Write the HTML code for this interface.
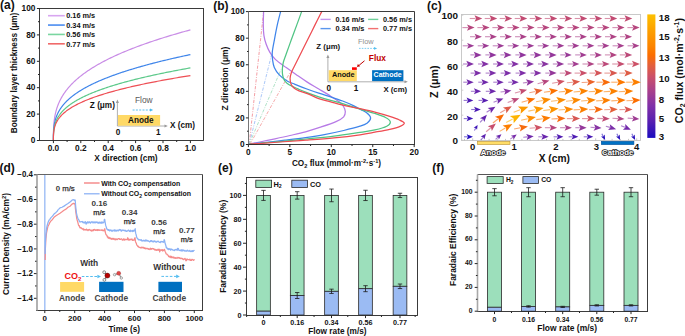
<!DOCTYPE html>
<html><head><meta charset="utf-8"><title>figure</title>
<style>html,body{margin:0;padding:0;background:#fff;width:685px;height:336px;overflow:hidden}
svg{display:block}
text{font-family:"Liberation Sans",sans-serif}
</style></head><body>
<svg width="685" height="336" viewBox="0 0 685 336">
<rect x="0" y="0" width="685" height="336" fill="#fff"/>
<polyline points="53.4,140.5 53.4,140.05 53.4,139.6 53.4,139.15 53.4,138.69 53.4,138.24 53.4,137.79 53.4,137.33 53.41,136.87 53.41,136.42 53.41,135.96 53.41,135.51 53.42,135.05 53.42,134.6 53.43,134.14 53.43,133.68 53.44,133.22 53.45,132.77 53.46,132.31 53.47,131.85 53.48,131.4 53.49,130.94 53.51,130.48 53.52,130.02 53.54,129.57 53.55,129.11 53.57,128.65 53.6,128.19 53.62,127.73 53.64,127.27 53.67,126.82 53.7,126.36 53.72,125.9 53.76,125.44 53.79,124.98 53.82,124.52 53.86,124.06 53.9,123.61 53.94,123.15 53.99,122.69 54.03,122.23 54.08,121.77 54.13,121.31 54.19,120.85 54.24,120.39 54.3,119.93 54.36,119.47 54.43,119.01 54.5,118.55 54.57,118.09 54.64,117.64 54.71,117.18 54.79,116.72 54.88,116.26 54.96,115.8 55.05,115.34 55.14,114.88 55.24,114.42 55.33,113.96 55.44,113.5 55.54,113.04 55.65,112.58 55.76,112.12 55.88,111.66 56,111.2 56.12,110.74 56.25,110.28 56.38,109.82 56.52,109.36 56.66,108.9 56.8,108.44 56.95,107.97 57.1,107.51 57.26,107.05 57.42,106.59 57.58,106.13 57.75,105.67 57.92,105.21 58.1,104.75 58.29,104.29 58.47,103.83 58.67,103.37 58.86,102.91 59.07,102.45 59.27,101.99 59.49,101.53 59.7,101.07 59.93,100.6 60.15,100.14 60.39,99.68 60.62,99.22 60.87,98.76 61.12,98.3 61.37,97.84 61.63,97.38 61.9,96.92 62.17,96.46 62.44,95.99 62.73,95.53 63.02,95.07 63.31,94.61 63.61,94.15 63.92,93.69 64.23,93.23 64.55,92.77 64.87,92.31 65.2,91.84 65.54,91.38 65.88,90.92 66.23,90.46 66.59,90 66.95,89.54 67.32,89.08 67.7,88.61 68.08,88.15 68.47,87.69 68.87,87.23 69.27,86.77 69.68,86.31 70.1,85.84 70.53,85.38 70.96,84.92 71.4,84.46 71.84,84 72.3,83.54 72.76,83.08 73.22,82.61 73.7,82.15 74.18,81.69 74.67,81.23 75.17,80.77 75.68,80.3 76.19,79.84 76.72,79.38 77.25,78.92 77.78,78.46 78.33,78 78.88,77.53 79.44,77.07 80.02,76.61 80.59,76.15 81.18,75.69 81.78,75.22 82.38,74.76 82.99,74.3 83.61,73.84 84.24,73.38 84.88,72.91 85.53,72.45 86.18,71.99 86.85,71.53 87.52,71.07 88.2,70.6 88.89,70.14 89.6,69.68 90.3,69.22 91.02,68.75 91.75,68.29 92.49,67.83 93.24,67.37 93.99,66.91 94.76,66.44 95.53,65.98 96.32,65.52 97.11,65.06 97.92,64.59 98.73,64.13 99.56,63.67 100.39,63.21 101.24,62.74 102.09,62.28 102.95,61.82 103.83,61.36 104.71,60.89 105.61,60.43 106.51,59.97 107.43,59.51 108.35,59.04 109.29,58.58 110.24,58.12 111.2,57.66 112.17,57.19 113.14,56.73 114.14,56.27 115.14,55.81 116.15,55.34 117.17,54.88 118.21,54.42 119.25,53.96 120.31,53.49 121.37,53.03 122.45,52.57 123.54,52.11 124.65,51.64 125.76,51.18 126.88,50.72 128.02,50.26 129.17,49.79 130.33,49.33 131.5,48.87 132.68,48.4 133.88,47.94 135.08,47.48 136.3,47.02 137.54,46.55 138.78,46.09 140.03,45.63 141.3,45.16 142.58,44.7 143.87,44.24 145.18,43.78 146.5,43.31 147.83,42.85 149.17,42.39 150.52,41.92 151.89,41.46 153.27,41 154.67,40.54 156.07,40.07 157.49,39.61 158.92,39.15 160.37,38.68 161.83,38.22 163.3,37.76 164.79,37.29 166.28,36.83 167.8,36.37 169.32,35.9 170.86,35.44 172.41,34.98 173.98,34.52 175.56,34.05 177.15,33.59 178.76,33.13 180.38,32.66 182.01,32.2 183.66,31.74 185.33,31.27 187,30.81 188.69,30.35 190.4,29.88" fill="none" stroke="#c98de6" stroke-width="1.2" stroke-linejoin="round" />
<polyline points="53.4,140.5 53.4,140.15 53.4,139.8 53.4,139.45 53.4,139.1 53.4,138.74 53.4,138.39 53.4,138.04 53.41,137.68 53.41,137.33 53.41,136.98 53.41,136.62 53.42,136.27 53.42,135.91 53.43,135.56 53.43,135.2 53.44,134.85 53.45,134.49 53.46,134.14 53.47,133.78 53.48,133.43 53.49,133.07 53.51,132.72 53.52,132.36 53.54,132.01 53.55,131.65 53.57,131.29 53.6,130.94 53.62,130.58 53.64,130.23 53.67,129.87 53.7,129.51 53.72,129.16 53.76,128.8 53.79,128.44 53.82,128.09 53.86,127.73 53.9,127.38 53.94,127.02 53.99,126.66 54.03,126.31 54.08,125.95 54.13,125.59 54.19,125.24 54.24,124.88 54.3,124.52 54.36,124.17 54.43,123.81 54.5,123.45 54.57,123.09 54.64,122.74 54.71,122.38 54.79,122.02 54.88,121.67 54.96,121.31 55.05,120.95 55.14,120.59 55.24,120.24 55.33,119.88 55.44,119.52 55.54,119.17 55.65,118.81 55.76,118.45 55.88,118.09 56,117.74 56.12,117.38 56.25,117.02 56.38,116.66 56.52,116.31 56.66,115.95 56.8,115.59 56.95,115.23 57.1,114.88 57.26,114.52 57.42,114.16 57.58,113.8 57.75,113.44 57.92,113.09 58.1,112.73 58.29,112.37 58.47,112.01 58.67,111.66 58.86,111.3 59.07,110.94 59.27,110.58 59.49,110.22 59.7,109.87 59.93,109.51 60.15,109.15 60.39,108.79 60.62,108.43 60.87,108.08 61.12,107.72 61.37,107.36 61.63,107 61.9,106.64 62.17,106.28 62.44,105.93 62.73,105.57 63.02,105.21 63.31,104.85 63.61,104.49 63.92,104.13 64.23,103.78 64.55,103.42 64.87,103.06 65.2,102.7 65.54,102.34 65.88,101.98 66.23,101.63 66.59,101.27 66.95,100.91 67.32,100.55 67.7,100.19 68.08,99.83 68.47,99.48 68.87,99.12 69.27,98.76 69.68,98.4 70.1,98.04 70.53,97.68 70.96,97.32 71.4,96.97 71.84,96.61 72.3,96.25 72.76,95.89 73.22,95.53 73.7,95.17 74.18,94.81 74.67,94.45 75.17,94.1 75.68,93.74 76.19,93.38 76.72,93.02 77.25,92.66 77.78,92.3 78.33,91.94 78.88,91.58 79.44,91.23 80.02,90.87 80.59,90.51 81.18,90.15 81.78,89.79 82.38,89.43 82.99,89.07 83.61,88.71 84.24,88.35 84.88,88 85.53,87.64 86.18,87.28 86.85,86.92 87.52,86.56 88.2,86.2 88.89,85.84 89.6,85.48 90.3,85.12 91.02,84.76 91.75,84.41 92.49,84.05 93.24,83.69 93.99,83.33 94.76,82.97 95.53,82.61 96.32,82.25 97.11,81.89 97.92,81.53 98.73,81.17 99.56,80.81 100.39,80.45 101.24,80.1 102.09,79.74 102.95,79.38 103.83,79.02 104.71,78.66 105.61,78.3 106.51,77.94 107.43,77.58 108.35,77.22 109.29,76.86 110.24,76.5 111.2,76.14 112.17,75.78 113.14,75.42 114.14,75.07 115.14,74.71 116.15,74.35 117.17,73.99 118.21,73.63 119.25,73.27 120.31,72.91 121.37,72.55 122.45,72.19 123.54,71.83 124.65,71.47 125.76,71.11 126.88,70.75 128.02,70.39 129.17,70.03 130.33,69.67 131.5,69.31 132.68,68.96 133.88,68.6 135.08,68.24 136.3,67.88 137.54,67.52 138.78,67.16 140.03,66.8 141.3,66.44 142.58,66.08 143.87,65.72 145.18,65.36 146.5,65 147.83,64.64 149.17,64.28 150.52,63.92 151.89,63.56 153.27,63.2 154.67,62.84 156.07,62.48 157.49,62.12 158.92,61.76 160.37,61.4 161.83,61.04 163.3,60.68 164.79,60.32 166.28,59.96 167.8,59.61 169.32,59.25 170.86,58.89 172.41,58.53 173.98,58.17 175.56,57.81 177.15,57.45 178.76,57.09 180.38,56.73 182.01,56.37 183.66,56.01 185.33,55.65 187,55.29 188.69,54.93 190.4,54.57" fill="none" stroke="#3f85ea" stroke-width="1.2" stroke-linejoin="round" />
<polyline points="53.4,140.5 53.4,140.21 53.4,139.91 53.4,139.61 53.4,139.31 53.4,139.02 53.4,138.72 53.4,138.42 53.41,138.12 53.41,137.82 53.41,137.52 53.41,137.22 53.42,136.92 53.42,136.62 53.43,136.32 53.43,136.02 53.44,135.73 53.45,135.43 53.46,135.13 53.47,134.82 53.48,134.52 53.49,134.22 53.51,133.92 53.52,133.62 53.54,133.32 53.55,133.02 53.57,132.72 53.6,132.42 53.62,132.12 53.64,131.82 53.67,131.52 53.7,131.22 53.72,130.92 53.76,130.62 53.79,130.32 53.82,130.01 53.86,129.71 53.9,129.41 53.94,129.11 53.99,128.81 54.03,128.51 54.08,128.21 54.13,127.91 54.19,127.6 54.24,127.3 54.3,127 54.36,126.7 54.43,126.4 54.5,126.1 54.57,125.79 54.64,125.49 54.71,125.19 54.79,124.89 54.88,124.59 54.96,124.29 55.05,123.98 55.14,123.68 55.24,123.38 55.33,123.08 55.44,122.78 55.54,122.48 55.65,122.17 55.76,121.87 55.88,121.57 56,121.27 56.12,120.97 56.25,120.66 56.38,120.36 56.52,120.06 56.66,119.76 56.8,119.46 56.95,119.15 57.1,118.85 57.26,118.55 57.42,118.25 57.58,117.94 57.75,117.64 57.92,117.34 58.1,117.04 58.29,116.73 58.47,116.43 58.67,116.13 58.86,115.83 59.07,115.53 59.27,115.22 59.49,114.92 59.7,114.62 59.93,114.32 60.15,114.01 60.39,113.71 60.62,113.41 60.87,113.11 61.12,112.8 61.37,112.5 61.63,112.2 61.9,111.9 62.17,111.59 62.44,111.29 62.73,110.99 63.02,110.68 63.31,110.38 63.61,110.08 63.92,109.78 64.23,109.47 64.55,109.17 64.87,108.87 65.2,108.57 65.54,108.26 65.88,107.96 66.23,107.66 66.59,107.35 66.95,107.05 67.32,106.75 67.7,106.45 68.08,106.14 68.47,105.84 68.87,105.54 69.27,105.23 69.68,104.93 70.1,104.63 70.53,104.33 70.96,104.02 71.4,103.72 71.84,103.42 72.3,103.11 72.76,102.81 73.22,102.51 73.7,102.2 74.18,101.9 74.67,101.6 75.17,101.3 75.68,100.99 76.19,100.69 76.72,100.39 77.25,100.08 77.78,99.78 78.33,99.48 78.88,99.17 79.44,98.87 80.02,98.57 80.59,98.26 81.18,97.96 81.78,97.66 82.38,97.35 82.99,97.05 83.61,96.75 84.24,96.44 84.88,96.14 85.53,95.84 86.18,95.53 86.85,95.23 87.52,94.93 88.2,94.62 88.89,94.32 89.6,94.02 90.3,93.71 91.02,93.41 91.75,93.11 92.49,92.8 93.24,92.5 93.99,92.2 94.76,91.89 95.53,91.59 96.32,91.29 97.11,90.98 97.92,90.68 98.73,90.38 99.56,90.07 100.39,89.77 101.24,89.47 102.09,89.16 102.95,88.86 103.83,88.56 104.71,88.25 105.61,87.95 106.51,87.65 107.43,87.34 108.35,87.04 109.29,86.74 110.24,86.43 111.2,86.13 112.17,85.82 113.14,85.52 114.14,85.22 115.14,84.91 116.15,84.61 117.17,84.31 118.21,84 119.25,83.7 120.31,83.4 121.37,83.09 122.45,82.79 123.54,82.48 124.65,82.18 125.76,81.88 126.88,81.57 128.02,81.27 129.17,80.97 130.33,80.66 131.5,80.36 132.68,80.06 133.88,79.75 135.08,79.45 136.3,79.14 137.54,78.84 138.78,78.54 140.03,78.23 141.3,77.93 142.58,77.63 143.87,77.32 145.18,77.02 146.5,76.71 147.83,76.41 149.17,76.11 150.52,75.8 151.89,75.5 153.27,75.19 154.67,74.89 156.07,74.59 157.49,74.28 158.92,73.98 160.37,73.68 161.83,73.37 163.3,73.07 164.79,72.76 166.28,72.46 167.8,72.16 169.32,71.85 170.86,71.55 172.41,71.24 173.98,70.94 175.56,70.64 177.15,70.33 178.76,70.03 180.38,69.72 182.01,69.42 183.66,69.12 185.33,68.81 187,68.51 188.69,68.2 190.4,67.9" fill="none" stroke="#5cc98a" stroke-width="1.2" stroke-linejoin="round" />
<polyline points="53.4,140.5 53.4,140.24 53.4,139.97 53.4,139.71 53.4,139.44 53.4,139.17 53.4,138.91 53.4,138.64 53.41,138.37 53.41,138.1 53.41,137.84 53.41,137.57 53.42,137.3 53.42,137.03 53.43,136.77 53.43,136.5 53.44,136.23 53.45,135.96 53.46,135.69 53.47,135.42 53.48,135.15 53.49,134.89 53.51,134.62 53.52,134.35 53.54,134.08 53.55,133.81 53.57,133.54 53.6,133.27 53.62,133 53.64,132.74 53.67,132.47 53.7,132.2 53.72,131.93 53.76,131.66 53.79,131.39 53.82,131.12 53.86,130.85 53.9,130.58 53.94,130.31 53.99,130.04 54.03,129.77 54.08,129.5 54.13,129.23 54.19,128.96 54.24,128.69 54.3,128.42 54.36,128.15 54.43,127.89 54.5,127.62 54.57,127.35 54.64,127.08 54.71,126.81 54.79,126.54 54.88,126.27 54.96,126 55.05,125.73 55.14,125.46 55.24,125.19 55.33,124.92 55.44,124.65 55.54,124.38 55.65,124.11 55.76,123.84 55.88,123.57 56,123.3 56.12,123.03 56.25,122.76 56.38,122.49 56.52,122.21 56.66,121.94 56.8,121.67 56.95,121.4 57.1,121.13 57.26,120.86 57.42,120.59 57.58,120.32 57.75,120.05 57.92,119.78 58.1,119.51 58.29,119.24 58.47,118.97 58.67,118.7 58.86,118.43 59.07,118.16 59.27,117.89 59.49,117.62 59.7,117.35 59.93,117.08 60.15,116.81 60.39,116.54 60.62,116.27 60.87,115.99 61.12,115.72 61.37,115.45 61.63,115.18 61.9,114.91 62.17,114.64 62.44,114.37 62.73,114.1 63.02,113.83 63.31,113.56 63.61,113.29 63.92,113.02 64.23,112.75 64.55,112.48 64.87,112.2 65.2,111.93 65.54,111.66 65.88,111.39 66.23,111.12 66.59,110.85 66.95,110.58 67.32,110.31 67.7,110.04 68.08,109.77 68.47,109.5 68.87,109.22 69.27,108.95 69.68,108.68 70.1,108.41 70.53,108.14 70.96,107.87 71.4,107.6 71.84,107.33 72.3,107.06 72.76,106.79 73.22,106.51 73.7,106.24 74.18,105.97 74.67,105.7 75.17,105.43 75.68,105.16 76.19,104.89 76.72,104.62 77.25,104.35 77.78,104.07 78.33,103.8 78.88,103.53 79.44,103.26 80.02,102.99 80.59,102.72 81.18,102.45 81.78,102.18 82.38,101.9 82.99,101.63 83.61,101.36 84.24,101.09 84.88,100.82 85.53,100.55 86.18,100.28 86.85,100.01 87.52,99.73 88.2,99.46 88.89,99.19 89.6,98.92 90.3,98.65 91.02,98.38 91.75,98.11 92.49,97.83 93.24,97.56 93.99,97.29 94.76,97.02 95.53,96.75 96.32,96.48 97.11,96.21 97.92,95.93 98.73,95.66 99.56,95.39 100.39,95.12 101.24,94.85 102.09,94.58 102.95,94.31 103.83,94.03 104.71,93.76 105.61,93.49 106.51,93.22 107.43,92.95 108.35,92.68 109.29,92.41 110.24,92.13 111.2,91.86 112.17,91.59 113.14,91.32 114.14,91.05 115.14,90.78 116.15,90.5 117.17,90.23 118.21,89.96 119.25,89.69 120.31,89.42 121.37,89.15 122.45,88.87 123.54,88.6 124.65,88.33 125.76,88.06 126.88,87.79 128.02,87.52 129.17,87.24 130.33,86.97 131.5,86.7 132.68,86.43 133.88,86.16 135.08,85.89 136.3,85.61 137.54,85.34 138.78,85.07 140.03,84.8 141.3,84.53 142.58,84.26 143.87,83.98 145.18,83.71 146.5,83.44 147.83,83.17 149.17,82.9 150.52,82.62 151.89,82.35 153.27,82.08 154.67,81.81 156.07,81.54 157.49,81.27 158.92,80.99 160.37,80.72 161.83,80.45 163.3,80.18 164.79,79.91 166.28,79.63 167.8,79.36 169.32,79.09 170.86,78.82 172.41,78.55 173.98,78.28 175.56,78 177.15,77.73 178.76,77.46 180.38,77.19 182.01,76.92 183.66,76.64 185.33,76.37 187,76.1 188.69,75.83 190.4,75.56" fill="none" stroke="#ee4f55" stroke-width="1.2" stroke-linejoin="round" />
<rect x="39.5" y="8.5" width="164" height="132" fill="none" stroke="#262626" stroke-width="0.9" />
<line x1="36.9" y1="140.5" x2="39.5" y2="140.5" stroke="#262626" stroke-width="1" />
<line x1="38" y1="127.3" x2="39.5" y2="127.3" stroke="#262626" stroke-width="1" />
<line x1="36.9" y1="114.1" x2="39.5" y2="114.1" stroke="#262626" stroke-width="1" />
<line x1="38" y1="100.9" x2="39.5" y2="100.9" stroke="#262626" stroke-width="1" />
<line x1="36.9" y1="87.7" x2="39.5" y2="87.7" stroke="#262626" stroke-width="1" />
<line x1="38" y1="74.5" x2="39.5" y2="74.5" stroke="#262626" stroke-width="1" />
<line x1="36.9" y1="61.3" x2="39.5" y2="61.3" stroke="#262626" stroke-width="1" />
<line x1="38" y1="48.1" x2="39.5" y2="48.1" stroke="#262626" stroke-width="1" />
<line x1="36.9" y1="34.9" x2="39.5" y2="34.9" stroke="#262626" stroke-width="1" />
<line x1="38" y1="21.7" x2="39.5" y2="21.7" stroke="#262626" stroke-width="1" />
<line x1="36.9" y1="8.5" x2="39.5" y2="8.5" stroke="#262626" stroke-width="1" />
<text x="35.4" y="143.1" font-size="8.3" font-weight="bold" text-anchor="end" fill="#111" >0</text>
<text x="35.4" y="116.7" font-size="8.3" font-weight="bold" text-anchor="end" fill="#111" >20</text>
<text x="35.4" y="90.3" font-size="8.3" font-weight="bold" text-anchor="end" fill="#111" >40</text>
<text x="35.4" y="63.9" font-size="8.3" font-weight="bold" text-anchor="end" fill="#111" >60</text>
<text x="35.4" y="37.5" font-size="8.3" font-weight="bold" text-anchor="end" fill="#111" >80</text>
<text x="35.4" y="11.1" font-size="8.3" font-weight="bold" text-anchor="end" fill="#111" >100</text>
<line x1="53.4" y1="140.5" x2="53.4" y2="143.1" stroke="#262626" stroke-width="1" />
<line x1="67.1" y1="140.5" x2="67.1" y2="142" stroke="#262626" stroke-width="1" />
<line x1="80.8" y1="140.5" x2="80.8" y2="143.1" stroke="#262626" stroke-width="1" />
<line x1="94.5" y1="140.5" x2="94.5" y2="142" stroke="#262626" stroke-width="1" />
<line x1="108.2" y1="140.5" x2="108.2" y2="143.1" stroke="#262626" stroke-width="1" />
<line x1="121.9" y1="140.5" x2="121.9" y2="142" stroke="#262626" stroke-width="1" />
<line x1="135.6" y1="140.5" x2="135.6" y2="143.1" stroke="#262626" stroke-width="1" />
<line x1="149.3" y1="140.5" x2="149.3" y2="142" stroke="#262626" stroke-width="1" />
<line x1="163" y1="140.5" x2="163" y2="143.1" stroke="#262626" stroke-width="1" />
<line x1="176.7" y1="140.5" x2="176.7" y2="142" stroke="#262626" stroke-width="1" />
<line x1="190.4" y1="140.5" x2="190.4" y2="143.1" stroke="#262626" stroke-width="1" />
<text x="53.4" y="150.6" font-size="8.3" font-weight="bold" text-anchor="middle" fill="#111" >0.0</text>
<text x="80.8" y="150.6" font-size="8.3" font-weight="bold" text-anchor="middle" fill="#111" >0.2</text>
<text x="108.2" y="150.6" font-size="8.3" font-weight="bold" text-anchor="middle" fill="#111" >0.4</text>
<text x="135.6" y="150.6" font-size="8.3" font-weight="bold" text-anchor="middle" fill="#111" >0.6</text>
<text x="163" y="150.6" font-size="8.3" font-weight="bold" text-anchor="middle" fill="#111" >0.8</text>
<text x="190.4" y="150.6" font-size="8.3" font-weight="bold" text-anchor="middle" fill="#111" >1.0</text>
<text x="126" y="161.3" font-size="8.4" font-weight="bold" text-anchor="middle" fill="#111" >X direction (cm)</text>
<text x="0" y="0" font-size="8.25" font-weight="bold" text-anchor="middle" fill="#111" transform="translate(16.5,73.0) rotate(-90)">Boundary layer thickness (μm)</text>
<text x="0" y="9.2" font-size="12" font-weight="bold" text-anchor="start" fill="#111" >(a)</text>
<line x1="48" y1="15.7" x2="64.8" y2="15.7" stroke="#d8a6f0" stroke-width="1.6" />
<text x="66.2" y="18.4" font-size="7.35" font-weight="bold" text-anchor="start" fill="#111" >0.16 m/s</text>
<line x1="48" y1="25.07" x2="64.8" y2="25.07" stroke="#4a8cf0" stroke-width="1.6" />
<text x="66.2" y="27.77" font-size="7.35" font-weight="bold" text-anchor="start" fill="#111" >0.34 m/s</text>
<line x1="48" y1="34.44" x2="64.8" y2="34.44" stroke="#7ad6a0" stroke-width="1.6" />
<text x="66.2" y="37.14" font-size="7.35" font-weight="bold" text-anchor="start" fill="#111" >0.56 m/s</text>
<line x1="48" y1="43.81" x2="64.8" y2="43.81" stroke="#f06a6a" stroke-width="1.6" />
<text x="66.2" y="46.51" font-size="7.35" font-weight="bold" text-anchor="start" fill="#111" >0.77 m/s</text>
<line x1="117.4" y1="126" x2="117.4" y2="102" stroke="#9a9a9a" stroke-width="0.8" />
<path d="M115.9,103 L117.4,99.6 L118.9,103 Z" fill="#9a9a9a"/>
<line x1="117.4" y1="126" x2="165.5" y2="126" stroke="#9a9a9a" stroke-width="0.8" />
<path d="M164.5,124.5 L167.8,126 L164.5,127.5 Z" fill="#9a9a9a"/>
<rect x="118" y="115" width="42.1" height="10.7" fill="#ffd966" stroke="none" stroke-width="1" />
<text x="140.8" y="123.4" font-size="8.2" font-weight="bold" text-anchor="middle" fill="#111" >Anode</text>
<text x="143.8" y="103.3" font-size="8.4" font-weight="normal" text-anchor="middle" fill="#5a5a5a" >Flow</text>
<line x1="132.6" y1="110" x2="150.5" y2="110" stroke="#49b8ec" stroke-width="0.9" stroke-dasharray="2,1.3"/>
<path d="M150,108.6 L153.2,110 L150,111.4 Z" fill="#49b8ec"/>
<text x="114.9" y="107.8" font-size="8.2" font-weight="bold" text-anchor="end" fill="#111" >Z (μm)</text>
<text x="170" y="127.9" font-size="8.2" font-weight="bold" text-anchor="start" fill="#111" >X (cm)</text>
<text x="118" y="135.3" font-size="8.2" font-weight="bold" text-anchor="middle" fill="#111" >0</text>
<text x="158.4" y="135.3" font-size="8.2" font-weight="bold" text-anchor="middle" fill="#111" >1</text>
<line x1="249.2" y1="144.2" x2="263.6" y2="11.6" stroke="#f39aa0" stroke-width="0.95" stroke-dasharray="3.2,1.4,0.9,1.4"/>
<line x1="249.2" y1="144.2" x2="271.5" y2="55" stroke="#9fc0f6" stroke-width="0.9" stroke-dasharray="3.2,1.4,0.9,1.4"/>
<line x1="249.2" y1="144.2" x2="281" y2="69.5" stroke="#a5dfbf" stroke-width="0.9" stroke-dasharray="3.2,1.4,0.9,1.4"/>
<line x1="250" y1="144.2" x2="290" y2="72.5" stroke="#f4a2a2" stroke-width="0.9" stroke-dasharray="3.2,1.4,0.9,1.4"/>
<path d="M263.6,11.6 C263.55,13.82 263.25,20.95 263.3,24.9 C263.35,28.85 263.42,32.07 263.9,35.3 C264.38,38.53 265.2,41.45 266.2,44.3 C267.2,47.15 268.33,49.85 269.9,52.4 C271.47,54.95 272.88,57.07 275.6,59.6 C278.32,62.13 282.8,65.12 286.2,67.6 C289.6,70.08 292.55,72.12 296,74.5 C299.45,76.88 303.1,79.48 306.9,81.9 C310.7,84.32 314.83,86.62 318.8,89 C322.77,91.38 327.25,94.02 330.7,96.2 C334.15,98.38 337.37,100.38 339.5,102.1 C341.63,103.82 342.53,104.93 343.5,106.5 C344.47,108.07 345.27,109.78 345.3,111.5 C345.33,113.22 345.25,115.12 343.7,116.8 C342.15,118.48 339.87,119.87 336,121.6 C332.13,123.33 325.58,125.5 320.5,127.2 C315.42,128.9 310.58,130.42 305.5,131.8 C300.42,133.18 295.08,134.33 290,135.5 C284.92,136.67 279.67,137.8 275,138.8 C270.33,139.8 266.33,140.6 262,141.5 C257.67,142.4 251.17,143.75 249,144.2" fill="none" stroke="#b77ae6" stroke-width="1.25" stroke-linejoin="round" stroke-linecap="round" />
<path d="M280.6,11.6 C280.05,13.82 278.33,20.2 277.3,24.9 C276.27,29.6 275.23,35.28 274.4,39.8 C273.57,44.32 272.6,48.63 272.3,52 C272,55.37 272.27,57.43 272.6,60 C272.93,62.57 273.18,64.92 274.3,67.4 C275.42,69.88 277.23,72.68 279.3,74.9 C281.37,77.12 284.08,79.13 286.7,80.7 C289.32,82.27 291.63,82.92 295,84.3 C298.37,85.68 302.93,87.52 306.9,89 C310.87,90.48 314.83,91.88 318.8,93.2 C322.77,94.52 326.73,95.6 330.7,96.9 C334.67,98.2 338.82,99.55 342.6,101 C346.38,102.45 350.33,104.15 353.4,105.6 C356.47,107.05 358.73,108.47 361,109.7 C363.27,110.93 365.4,111.62 367,113 C368.6,114.38 370.6,116.3 370.6,118 C370.6,119.7 368.77,121.83 367,123.2 C365.23,124.57 363.88,124.98 360,126.2 C356.12,127.42 349.63,129.1 343.7,130.5 C337.77,131.9 330.77,133.42 324.4,134.6 C318.03,135.78 312.07,136.67 305.5,137.6 C298.93,138.53 291.75,139.38 285,140.2 C278.25,141.02 271,141.83 265,142.5 C259,143.17 251.67,143.92 249,144.2" fill="none" stroke="#3f85ea" stroke-width="1.25" stroke-linejoin="round" stroke-linecap="round" />
<path d="M301.6,11.6 C300.8,13.82 298.52,20.2 296.8,24.9 C295.08,29.6 293.07,34.95 291.3,39.8 C289.53,44.65 287.52,50.3 286.2,54 C284.88,57.7 284.03,59.58 283.4,62 C282.77,64.42 282.53,66.35 282.4,68.5 C282.27,70.65 282.3,72.98 282.6,74.9 C282.9,76.82 283.42,78.57 284.2,80 C284.98,81.43 286,82.45 287.3,83.5 C288.6,84.55 290.23,85.4 292,86.3 C293.77,87.2 295.42,87.85 297.9,88.9 C300.38,89.95 303.42,91.28 306.9,92.6 C310.38,93.92 314.83,95.5 318.8,96.8 C322.77,98.1 326.73,99.27 330.7,100.4 C334.67,101.53 337.72,102.15 342.6,103.6 C347.48,105.05 354.62,107.45 360,109.1 C365.38,110.75 370.65,112.1 374.9,113.5 C379.15,114.9 382.93,116.12 385.5,117.5 C388.07,118.88 390.08,120.35 390.3,121.8 C390.52,123.25 389.37,124.85 386.8,126.2 C384.23,127.55 379.37,128.88 374.9,129.9 C370.43,130.92 366.82,131.27 360,132.3 C353.18,133.33 343,134.98 334,136.1 C325,137.22 315,138.08 306,139 C297,139.92 287.33,140.92 280,141.6 C272.67,142.28 267.17,142.67 262,143.1 C256.83,143.53 251.17,144.02 249,144.2" fill="none" stroke="#50c484" stroke-width="1.25" stroke-linejoin="round" stroke-linecap="round" />
<path d="M321.7,11.6 C320.58,13.82 317.35,20.2 315,24.9 C312.65,29.6 309.77,35.45 307.6,39.8 C305.43,44.15 303.68,47.63 302,51 C300.32,54.37 298.83,57.33 297.5,60 C296.17,62.67 295.02,64.92 294,67 C292.98,69.08 292.05,70.58 291.4,72.5 C290.75,74.42 290.13,76.5 290.1,78.5 C290.07,80.5 290.5,82.87 291.2,84.5 C291.9,86.13 293,87.25 294.3,88.3 C295.6,89.35 296.72,89.88 299,90.8 C301.28,91.72 304.7,92.5 308,93.8 C311.3,95.1 315.02,97.25 318.8,98.6 C322.58,99.95 326.33,100.72 330.7,101.9 C335.07,103.08 340.12,104.57 345,105.7 C349.88,106.83 355.02,107.63 360,108.7 C364.98,109.77 369.95,110.82 374.9,112.1 C379.85,113.38 385.6,115.08 389.7,116.4 C393.8,117.72 397.07,118.87 399.5,120 C401.93,121.13 404.2,122.15 404.3,123.2 C404.4,124.25 402.53,125.28 400.1,126.3 C397.67,127.32 393.9,128.32 389.7,129.3 C385.5,130.28 379.85,131.28 374.9,132.2 C369.95,133.12 366.82,133.85 360,134.8 C353.18,135.75 343,137 334,137.9 C325,138.8 315,139.52 306,140.2 C297,140.88 287.33,141.48 280,142 C272.67,142.52 267,142.93 262,143.3 C257,143.67 252,144.05 250,144.2" fill="none" stroke="#ee4c52" stroke-width="1.25" stroke-linejoin="round" stroke-linecap="round" />
<line x1="248.5" y1="11.5" x2="414.5" y2="11.5" stroke="#262626" stroke-width="0.9" />
<line x1="414.5" y1="11.5" x2="414.5" y2="144.5" stroke="#262626" stroke-width="0.9" />
<line x1="248" y1="144.5" x2="414.95" y2="144.5" stroke="#262626" stroke-width="0.9" />
<line x1="248.5" y1="11.5" x2="248.5" y2="144.5" stroke="#777" stroke-width="1" />
<line x1="245.9" y1="144.5" x2="248.5" y2="144.5" stroke="#262626" stroke-width="1" />
<line x1="247" y1="131.21" x2="248.5" y2="131.21" stroke="#262626" stroke-width="1" />
<line x1="245.9" y1="117.92" x2="248.5" y2="117.92" stroke="#262626" stroke-width="1" />
<line x1="247" y1="104.63" x2="248.5" y2="104.63" stroke="#262626" stroke-width="1" />
<line x1="245.9" y1="91.34" x2="248.5" y2="91.34" stroke="#262626" stroke-width="1" />
<line x1="247" y1="78.05" x2="248.5" y2="78.05" stroke="#262626" stroke-width="1" />
<line x1="245.9" y1="64.76" x2="248.5" y2="64.76" stroke="#262626" stroke-width="1" />
<line x1="247" y1="51.47" x2="248.5" y2="51.47" stroke="#262626" stroke-width="1" />
<line x1="245.9" y1="38.18" x2="248.5" y2="38.18" stroke="#262626" stroke-width="1" />
<line x1="247" y1="24.89" x2="248.5" y2="24.89" stroke="#262626" stroke-width="1" />
<line x1="245.9" y1="11.6" x2="248.5" y2="11.6" stroke="#262626" stroke-width="1" />
<text x="244.6" y="147.2" font-size="8.3" font-weight="bold" text-anchor="end" fill="#111" >0</text>
<text x="244.6" y="120.62" font-size="8.3" font-weight="bold" text-anchor="end" fill="#111" >20</text>
<text x="244.6" y="94.04" font-size="8.3" font-weight="bold" text-anchor="end" fill="#111" >40</text>
<text x="244.6" y="67.46" font-size="8.3" font-weight="bold" text-anchor="end" fill="#111" >60</text>
<text x="244.6" y="40.88" font-size="8.3" font-weight="bold" text-anchor="end" fill="#111" >80</text>
<text x="244.6" y="14.3" font-size="8.3" font-weight="bold" text-anchor="end" fill="#111" >100</text>
<line x1="248.4" y1="144.5" x2="248.4" y2="147.1" stroke="#262626" stroke-width="1" />
<line x1="269.12" y1="144.5" x2="269.12" y2="146" stroke="#262626" stroke-width="1" />
<line x1="289.85" y1="144.5" x2="289.85" y2="147.1" stroke="#262626" stroke-width="1" />
<line x1="310.57" y1="144.5" x2="310.57" y2="146" stroke="#262626" stroke-width="1" />
<line x1="331.3" y1="144.5" x2="331.3" y2="147.1" stroke="#262626" stroke-width="1" />
<line x1="352.02" y1="144.5" x2="352.02" y2="146" stroke="#262626" stroke-width="1" />
<line x1="372.75" y1="144.5" x2="372.75" y2="147.1" stroke="#262626" stroke-width="1" />
<line x1="393.48" y1="144.5" x2="393.48" y2="146" stroke="#262626" stroke-width="1" />
<line x1="414.2" y1="144.5" x2="414.2" y2="147.1" stroke="#262626" stroke-width="1" />
<text x="248.4" y="155" font-size="8.3" font-weight="bold" text-anchor="middle" fill="#111" >0</text>
<text x="289.85" y="155" font-size="8.3" font-weight="bold" text-anchor="middle" fill="#111" >5</text>
<text x="331.3" y="155" font-size="8.3" font-weight="bold" text-anchor="middle" fill="#111" >10</text>
<text x="372.75" y="155" font-size="8.3" font-weight="bold" text-anchor="middle" fill="#111" >15</text>
<text x="414.2" y="155" font-size="8.3" font-weight="bold" text-anchor="middle" fill="#111" >20</text>
<text x="336.5" y="166.2" font-size="8.2" font-weight="bold" text-anchor="middle" fill="#111" >CO<tspan font-size="5.6" dy="1.8">2</tspan><tspan dy="-1.8"> flux (mmol·m</tspan><tspan font-size="5.6" dy="-3">-2</tspan><tspan dy="3">·s</tspan><tspan font-size="5.6" dy="-3">-1</tspan><tspan dy="3">)</tspan></text>
<text x="0" y="0" font-size="8.45" font-weight="bold" text-anchor="middle" fill="#111" transform="translate(227.8,78.5) rotate(-90)">Z direction (μm)</text>
<text x="213.3" y="9.5" font-size="12" font-weight="bold" text-anchor="start" fill="#111" >(b)</text>
<line x1="320.5" y1="19.4" x2="330.7" y2="19.4" stroke="#c597ee" stroke-width="1.4" />
<text x="335.4" y="22.1" font-size="7.35" font-weight="bold" text-anchor="start" fill="#111" >0.16 m/s</text>
<line x1="320.5" y1="28.6" x2="330.7" y2="28.6" stroke="#5a96ee" stroke-width="1.4" />
<text x="335.4" y="31.3" font-size="7.35" font-weight="bold" text-anchor="start" fill="#111" >0.34 m/s</text>
<line x1="368.1" y1="19.4" x2="378.3" y2="19.4" stroke="#6fd09a" stroke-width="1.4" />
<text x="383" y="22.1" font-size="7.35" font-weight="bold" text-anchor="start" fill="#111" >0.56 m/s</text>
<line x1="368.1" y1="28.6" x2="378.3" y2="28.6" stroke="#f27070" stroke-width="1.4" />
<text x="383" y="31.3" font-size="7.35" font-weight="bold" text-anchor="start" fill="#111" >0.77 m/s</text>
<line x1="327.9" y1="81.8" x2="327.9" y2="57" stroke="#9a9a9a" stroke-width="0.8" />
<path d="M326.4,58 L327.9,54.6 L329.4,58 Z" fill="#9a9a9a"/>
<line x1="327.9" y1="81.8" x2="405.5" y2="81.8" stroke="#9a9a9a" stroke-width="0.8" />
<path d="M404.5,80.3 L407.8,81.8 L404.5,83.3 Z" fill="#9a9a9a"/>
<rect x="328.7" y="70.2" width="28.1" height="10.9" fill="#ffd966" stroke="none" stroke-width="1" />
<rect x="352" y="67.3" width="4.8" height="2.6" fill="#ff0000" stroke="none" stroke-width="1" />
<line x1="364.5" y1="60.8" x2="359.2" y2="65.2" stroke="#c00000" stroke-width="1" />
<path d="M357.0,67.0 L357.8,64.1 L360.2,66.3 Z" fill="#c00000"/>
<text x="343.3" y="77.4" font-size="7.3" font-weight="bold" text-anchor="middle" fill="#111" >Anode</text>
<rect x="372.1" y="70.2" width="31.3" height="10.9" fill="#0070c0" stroke="none" stroke-width="1" />
<text x="387.6" y="77.3" font-size="7" font-weight="bold" text-anchor="middle" fill="#fff" >Cathode</text>
<text x="377.4" y="61.1" font-size="8.3" font-weight="bold" text-anchor="middle" fill="#c00000" >Flux</text>
<text x="365.8" y="43.6" font-size="7.4" font-weight="normal" text-anchor="middle" fill="#8f8f8f" >Flow</text>
<line x1="359" y1="48.4" x2="374.5" y2="48.4" stroke="#6cc8f2" stroke-width="0.9" stroke-dasharray="1.6,1.2"/>
<path d="M374,47 L377.2,48.4 L374,49.8 Z" fill="#55c0f0"/>
<text x="340.2" y="49.2" font-size="7.8" font-weight="bold" text-anchor="end" fill="#111" >Z (μm)</text>
<text x="383.4" y="92.3" font-size="7.8" font-weight="bold" text-anchor="start" fill="#111" >X (cm)</text>
<text x="328.7" y="90.9" font-size="8.2" font-weight="bold" text-anchor="middle" fill="#111" >0</text>
<text x="356" y="90.9" font-size="8.2" font-weight="bold" text-anchor="middle" fill="#111" >1</text>
<defs><linearGradient id="cbg" x1="0" y1="0" x2="0" y2="1"><stop offset="0" stop-color="#fdc000"/><stop offset="0.13" stop-color="#fda000"/><stop offset="0.26" stop-color="#fc8400"/><stop offset="0.33" stop-color="#fc6e00"/><stop offset="0.41" stop-color="#e4603a"/><stop offset="0.5" stop-color="#cc5068"/><stop offset="0.62" stop-color="#a8408c"/><stop offset="0.74" stop-color="#8030a8"/><stop offset="0.86" stop-color="#5a20b0"/><stop offset="0.94" stop-color="#3814b8"/><stop offset="1" stop-color="#1a0cc0"/></linearGradient></defs>
<rect x="461.5" y="14.5" width="179" height="126" fill="none" stroke="#c4c4c4" stroke-width="0.9" />
<line x1="461.5" y1="140.2" x2="463.3" y2="140.2" stroke="#c4c4c4" stroke-width="0.8" />
<line x1="461.5" y1="115.2" x2="463.3" y2="115.2" stroke="#c4c4c4" stroke-width="0.8" />
<line x1="461.5" y1="90.2" x2="463.3" y2="90.2" stroke="#c4c4c4" stroke-width="0.8" />
<line x1="461.5" y1="65.2" x2="463.3" y2="65.2" stroke="#c4c4c4" stroke-width="0.8" />
<line x1="461.5" y1="40.2" x2="463.3" y2="40.2" stroke="#c4c4c4" stroke-width="0.8" />
<line x1="461.5" y1="15.2" x2="463.3" y2="15.2" stroke="#c4c4c4" stroke-width="0.8" />
<line x1="464.5" y1="140.5" x2="464.5" y2="138.9" stroke="#b8b8b8" stroke-width="0.8" />
<line x1="472.7" y1="140.5" x2="472.7" y2="138.3" stroke="#b8b8b8" stroke-width="0.8" />
<line x1="480.9" y1="140.5" x2="480.9" y2="138.9" stroke="#b8b8b8" stroke-width="0.8" />
<line x1="489.1" y1="140.5" x2="489.1" y2="138.9" stroke="#b8b8b8" stroke-width="0.8" />
<line x1="497.3" y1="140.5" x2="497.3" y2="138.9" stroke="#b8b8b8" stroke-width="0.8" />
<line x1="505.5" y1="140.5" x2="505.5" y2="138.9" stroke="#b8b8b8" stroke-width="0.8" />
<line x1="513.7" y1="140.5" x2="513.7" y2="138.3" stroke="#b8b8b8" stroke-width="0.8" />
<line x1="521.9" y1="140.5" x2="521.9" y2="138.9" stroke="#b8b8b8" stroke-width="0.8" />
<line x1="530.1" y1="140.5" x2="530.1" y2="138.9" stroke="#b8b8b8" stroke-width="0.8" />
<line x1="538.3" y1="140.5" x2="538.3" y2="138.9" stroke="#b8b8b8" stroke-width="0.8" />
<line x1="546.5" y1="140.5" x2="546.5" y2="138.9" stroke="#b8b8b8" stroke-width="0.8" />
<line x1="554.7" y1="140.5" x2="554.7" y2="138.3" stroke="#b8b8b8" stroke-width="0.8" />
<line x1="562.9" y1="140.5" x2="562.9" y2="138.9" stroke="#b8b8b8" stroke-width="0.8" />
<line x1="571.1" y1="140.5" x2="571.1" y2="138.9" stroke="#b8b8b8" stroke-width="0.8" />
<line x1="579.3" y1="140.5" x2="579.3" y2="138.9" stroke="#b8b8b8" stroke-width="0.8" />
<line x1="587.5" y1="140.5" x2="587.5" y2="138.9" stroke="#b8b8b8" stroke-width="0.8" />
<line x1="595.7" y1="140.5" x2="595.7" y2="138.3" stroke="#b8b8b8" stroke-width="0.8" />
<line x1="603.9" y1="140.5" x2="603.9" y2="138.9" stroke="#b8b8b8" stroke-width="0.8" />
<line x1="612.1" y1="140.5" x2="612.1" y2="138.9" stroke="#b8b8b8" stroke-width="0.8" />
<line x1="620.3" y1="140.5" x2="620.3" y2="138.9" stroke="#b8b8b8" stroke-width="0.8" />
<line x1="628.5" y1="140.5" x2="628.5" y2="138.9" stroke="#b8b8b8" stroke-width="0.8" />
<line x1="636.7" y1="140.5" x2="636.7" y2="138.3" stroke="#b8b8b8" stroke-width="0.8" />
<line x1="469.72" y1="18.5" x2="475.49" y2="18.5" stroke="#c24b72" stroke-width="1.1" stroke-opacity="0.6"/>
<path d="M482.28,18.5 L474.49,21.65 L476.05,18.5 L474.49,15.35 Z" fill="#c24b72"/>
<line x1="484.72" y1="18.5" x2="490.49" y2="18.5" stroke="#c24b72" stroke-width="1.1" stroke-opacity="0.6"/>
<path d="M497.28,18.5 L489.49,21.65 L491.05,18.5 L489.49,15.35 Z" fill="#c24b72"/>
<line x1="499.72" y1="18.5" x2="505.49" y2="18.5" stroke="#c24b72" stroke-width="1.1" stroke-opacity="0.6"/>
<path d="M512.28,18.5 L504.49,21.65 L506.05,18.5 L504.49,15.35 Z" fill="#c24b72"/>
<line x1="514.72" y1="18.5" x2="520.49" y2="18.5" stroke="#c24b72" stroke-width="1.1" stroke-opacity="0.6"/>
<path d="M527.28,18.5 L519.49,21.65 L521.05,18.5 L519.49,15.35 Z" fill="#c24b72"/>
<line x1="529.72" y1="18.5" x2="535.49" y2="18.5" stroke="#c24b72" stroke-width="1.1" stroke-opacity="0.6"/>
<path d="M542.28,18.5 L534.49,21.65 L536.05,18.5 L534.49,15.35 Z" fill="#c24b72"/>
<line x1="544.72" y1="18.5" x2="550.49" y2="18.5" stroke="#c24b72" stroke-width="1.1" stroke-opacity="0.6"/>
<path d="M557.28,18.5 L549.49,21.65 L551.05,18.5 L549.49,15.35 Z" fill="#c24b72"/>
<line x1="559.72" y1="18.5" x2="565.49" y2="18.5" stroke="#c24b72" stroke-width="1.1" stroke-opacity="0.6"/>
<path d="M572.28,18.5 L564.49,21.65 L566.05,18.5 L564.49,15.35 Z" fill="#c24b72"/>
<line x1="574.72" y1="18.5" x2="580.49" y2="18.5" stroke="#c24b72" stroke-width="1.1" stroke-opacity="0.6"/>
<path d="M587.28,18.5 L579.49,21.65 L581.05,18.5 L579.49,15.35 Z" fill="#c24b72"/>
<line x1="589.72" y1="18.5" x2="595.49" y2="18.5" stroke="#c24b72" stroke-width="1.1" stroke-opacity="0.6"/>
<path d="M602.28,18.5 L594.49,21.65 L596.05,18.5 L594.49,15.35 Z" fill="#c24b72"/>
<line x1="604.72" y1="18.5" x2="610.49" y2="18.5" stroke="#c24b72" stroke-width="1.1" stroke-opacity="0.6"/>
<path d="M617.28,18.5 L609.49,21.65 L611.05,18.5 L609.49,15.35 Z" fill="#c24b72"/>
<line x1="619.72" y1="18.5" x2="625.49" y2="18.5" stroke="#c24b72" stroke-width="1.1" stroke-opacity="0.6"/>
<path d="M632.28,18.5 L624.49,21.65 L626.05,18.5 L624.49,15.35 Z" fill="#c24b72"/>
<line x1="462.38" y1="27.6" x2="468.03" y2="27.6" stroke="#b6467e" stroke-width="1.1" stroke-opacity="0.6"/>
<path d="M474.62,27.6 L467.03,30.68 L468.55,27.6 L467.03,24.52 Z" fill="#b6467e"/>
<line x1="477.38" y1="27.6" x2="483.03" y2="27.6" stroke="#b6467e" stroke-width="1.1" stroke-opacity="0.6"/>
<path d="M489.62,27.6 L482.03,30.68 L483.55,27.6 L482.03,24.52 Z" fill="#b6467e"/>
<line x1="492.38" y1="27.6" x2="498.03" y2="27.6" stroke="#b6467e" stroke-width="1.1" stroke-opacity="0.6"/>
<path d="M504.62,27.6 L497.03,30.68 L498.55,27.6 L497.03,24.52 Z" fill="#b6467e"/>
<line x1="507.38" y1="27.6" x2="513.03" y2="27.6" stroke="#b6467e" stroke-width="1.1" stroke-opacity="0.6"/>
<path d="M519.62,27.6 L512.03,30.68 L513.55,27.6 L512.03,24.52 Z" fill="#b6467e"/>
<line x1="522.38" y1="27.6" x2="528.03" y2="27.6" stroke="#b6467e" stroke-width="1.1" stroke-opacity="0.6"/>
<path d="M534.62,27.6 L527.03,30.68 L528.55,27.6 L527.03,24.52 Z" fill="#b6467e"/>
<line x1="537.38" y1="27.6" x2="543.03" y2="27.6" stroke="#b6467e" stroke-width="1.1" stroke-opacity="0.6"/>
<path d="M549.62,27.6 L542.03,30.68 L543.55,27.6 L542.03,24.52 Z" fill="#b6467e"/>
<line x1="552.38" y1="27.6" x2="558.03" y2="27.6" stroke="#b6467e" stroke-width="1.1" stroke-opacity="0.6"/>
<path d="M564.62,27.6 L557.03,30.68 L558.55,27.6 L557.03,24.52 Z" fill="#b6467e"/>
<line x1="567.38" y1="27.6" x2="573.03" y2="27.6" stroke="#b6467e" stroke-width="1.1" stroke-opacity="0.6"/>
<path d="M579.62,27.6 L572.03,30.68 L573.55,27.6 L572.03,24.52 Z" fill="#b6467e"/>
<line x1="582.38" y1="27.6" x2="588.03" y2="27.6" stroke="#b6467e" stroke-width="1.1" stroke-opacity="0.6"/>
<path d="M594.62,27.6 L587.03,30.68 L588.55,27.6 L587.03,24.52 Z" fill="#b6467e"/>
<line x1="597.38" y1="27.6" x2="603.03" y2="27.6" stroke="#b6467e" stroke-width="1.1" stroke-opacity="0.6"/>
<path d="M609.62,27.6 L602.03,30.68 L603.55,27.6 L602.03,24.52 Z" fill="#b6467e"/>
<line x1="612.38" y1="27.6" x2="618.03" y2="27.6" stroke="#b6467e" stroke-width="1.1" stroke-opacity="0.6"/>
<path d="M624.62,27.6 L617.03,30.68 L618.55,27.6 L617.03,24.52 Z" fill="#b6467e"/>
<line x1="627.38" y1="27.6" x2="633.03" y2="27.6" stroke="#b6467e" stroke-width="1.1" stroke-opacity="0.6"/>
<path d="M639.62,27.6 L632.03,30.68 L633.55,27.6 L632.03,24.52 Z" fill="#b6467e"/>
<line x1="470.04" y1="36.7" x2="475.57" y2="36.7" stroke="#ab4189" stroke-width="1.1" stroke-opacity="0.6"/>
<path d="M481.96,36.7 L474.57,39.7 L476.05,36.7 L474.57,33.7 Z" fill="#ab4189"/>
<line x1="485.04" y1="36.7" x2="490.57" y2="36.7" stroke="#ab4189" stroke-width="1.1" stroke-opacity="0.6"/>
<path d="M496.96,36.7 L489.57,39.7 L491.05,36.7 L489.57,33.7 Z" fill="#ab4189"/>
<line x1="500.04" y1="36.7" x2="505.57" y2="36.7" stroke="#ab4189" stroke-width="1.1" stroke-opacity="0.6"/>
<path d="M511.96,36.7 L504.57,39.7 L506.05,36.7 L504.57,33.7 Z" fill="#ab4189"/>
<line x1="515.04" y1="36.7" x2="520.57" y2="36.7" stroke="#ab4189" stroke-width="1.1" stroke-opacity="0.6"/>
<path d="M526.96,36.7 L519.57,39.7 L521.05,36.7 L519.57,33.7 Z" fill="#ab4189"/>
<line x1="530.04" y1="36.7" x2="535.57" y2="36.7" stroke="#ab4189" stroke-width="1.1" stroke-opacity="0.6"/>
<path d="M541.96,36.7 L534.57,39.7 L536.05,36.7 L534.57,33.7 Z" fill="#ab4189"/>
<line x1="545.04" y1="36.7" x2="550.57" y2="36.7" stroke="#ab4189" stroke-width="1.1" stroke-opacity="0.6"/>
<path d="M556.96,36.7 L549.57,39.7 L551.05,36.7 L549.57,33.7 Z" fill="#ab4189"/>
<line x1="560.04" y1="36.7" x2="565.57" y2="36.7" stroke="#ab4189" stroke-width="1.1" stroke-opacity="0.6"/>
<path d="M571.96,36.7 L564.57,39.7 L566.05,36.7 L564.57,33.7 Z" fill="#ab4189"/>
<line x1="575.04" y1="36.7" x2="580.57" y2="36.7" stroke="#ab4189" stroke-width="1.1" stroke-opacity="0.6"/>
<path d="M586.96,36.7 L579.57,39.7 L581.05,36.7 L579.57,33.7 Z" fill="#ab4189"/>
<line x1="590.01" y1="36.7" x2="595.56" y2="36.7" stroke="#ad4287" stroke-width="1.1" stroke-opacity="0.6"/>
<path d="M601.99,36.7 L594.56,39.72 L596.05,36.7 L594.56,33.68 Z" fill="#ad4287"/>
<line x1="604.98" y1="36.7" x2="610.56" y2="36.7" stroke="#af4385" stroke-width="1.1" stroke-opacity="0.6"/>
<path d="M617.02,36.7 L609.56,39.73 L611.05,36.7 L609.56,33.67 Z" fill="#af4385"/>
<line x1="619.96" y1="36.7" x2="625.55" y2="36.7" stroke="#b04484" stroke-width="1.1" stroke-opacity="0.6"/>
<path d="M632.04,36.7 L624.55,39.74 L626.05,36.7 L624.55,33.66 Z" fill="#b04484"/>
<line x1="462.72" y1="45.8" x2="468.11" y2="45.8" stroke="#9c3b94" stroke-width="1.1" stroke-opacity="0.6"/>
<path d="M474.28,45.8 L467.11,48.72 L468.55,45.8 L467.11,42.88 Z" fill="#9c3b94"/>
<line x1="477.72" y1="45.8" x2="483.11" y2="45.8" stroke="#9c3b94" stroke-width="1.1" stroke-opacity="0.6"/>
<path d="M489.28,45.8 L482.11,48.72 L483.55,45.8 L482.11,42.88 Z" fill="#9c3b94"/>
<line x1="492.72" y1="45.8" x2="498.11" y2="45.8" stroke="#9c3b94" stroke-width="1.1" stroke-opacity="0.6"/>
<path d="M504.28,45.8 L497.11,48.72 L498.55,45.8 L497.11,42.88 Z" fill="#9c3b94"/>
<line x1="507.72" y1="45.8" x2="513.11" y2="45.8" stroke="#9c3b94" stroke-width="1.1" stroke-opacity="0.6"/>
<path d="M519.28,45.8 L512.11,48.72 L513.55,45.8 L512.11,42.88 Z" fill="#9c3b94"/>
<line x1="522.72" y1="45.8" x2="528.11" y2="45.8" stroke="#9c3b94" stroke-width="1.1" stroke-opacity="0.6"/>
<path d="M534.28,45.8 L527.11,48.72 L528.55,45.8 L527.11,42.88 Z" fill="#9c3b94"/>
<line x1="537.72" y1="45.8" x2="543.11" y2="45.8" stroke="#9c3b94" stroke-width="1.1" stroke-opacity="0.6"/>
<path d="M549.28,45.8 L542.11,48.72 L543.55,45.8 L542.11,42.88 Z" fill="#9c3b94"/>
<line x1="552.69" y1="45.8" x2="558.11" y2="45.8" stroke="#9e3c93" stroke-width="1.1" stroke-opacity="0.6"/>
<path d="M564.31,45.8 L557.11,48.73 L558.55,45.8 L557.11,42.87 Z" fill="#9e3c93"/>
<line x1="567.67" y1="45.8" x2="573.1" y2="45.8" stroke="#a13d91" stroke-width="1.1" stroke-opacity="0.6"/>
<path d="M579.33,45.8 L572.1,48.74 L573.55,45.8 L572.1,42.86 Z" fill="#a13d91"/>
<line x1="582.64" y1="45.8" x2="588.09" y2="45.8" stroke="#a33e90" stroke-width="1.1" stroke-opacity="0.6"/>
<path d="M594.36,45.8 L587.09,48.75 L588.55,45.8 L587.09,42.85 Z" fill="#a33e90"/>
<line x1="597.61" y1="45.8" x2="603.09" y2="45.8" stroke="#a53f8e" stroke-width="1.1" stroke-opacity="0.6"/>
<path d="M609.39,45.8 L602.09,48.77 L603.55,45.8 L602.09,42.83 Z" fill="#a53f8e"/>
<line x1="612.59" y1="45.8" x2="618.08" y2="45.8" stroke="#a7408d" stroke-width="1.1" stroke-opacity="0.6"/>
<path d="M624.41,45.8 L617.08,48.78 L618.55,45.8 L617.08,42.82 Z" fill="#a7408d"/>
<line x1="627.56" y1="45.8" x2="633.07" y2="45.8" stroke="#a9408b" stroke-width="1.1" stroke-opacity="0.6"/>
<path d="M639.44,45.8 L632.07,48.79 L633.55,45.8 L632.07,42.81 Z" fill="#a9408b"/>
<line x1="470.37" y1="54.9" x2="474.75" y2="54.9" stroke="#90369d" stroke-width="1.1" stroke-opacity="0.6"/>
<path d="M481.63,54.9 L473.75,58.14 L475.32,54.9 L473.75,51.66 Z" fill="#90369d"/>
<line x1="485.37" y1="54.9" x2="489.75" y2="54.9" stroke="#90369d" stroke-width="1.1" stroke-opacity="0.6"/>
<path d="M496.63,54.9 L488.75,58.14 L490.32,54.9 L488.75,51.66 Z" fill="#90369d"/>
<line x1="500.37" y1="54.9" x2="504.75" y2="54.9" stroke="#90369d" stroke-width="1.1" stroke-opacity="0.6"/>
<path d="M511.63,54.9 L503.75,58.14 L505.32,54.9 L503.75,51.66 Z" fill="#90369d"/>
<line x1="515.37" y1="54.9" x2="519.75" y2="54.9" stroke="#90369d" stroke-width="1.1" stroke-opacity="0.6"/>
<path d="M526.63,54.9 L518.75,58.14 L520.32,54.9 L518.75,51.66 Z" fill="#90369d"/>
<line x1="530.35" y1="54.9" x2="534.74" y2="54.9" stroke="#92379c" stroke-width="1.1" stroke-opacity="0.6"/>
<path d="M541.65,54.9 L533.74,58.15 L535.32,54.9 L533.74,51.65 Z" fill="#92379c"/>
<line x1="545.32" y1="54.9" x2="549.73" y2="54.9" stroke="#94389a" stroke-width="1.1" stroke-opacity="0.6"/>
<path d="M556.68,54.9 L548.73,58.17 L550.32,54.9 L548.73,51.63 Z" fill="#94389a"/>
<line x1="560.27" y1="54.9" x2="565.62" y2="54.9" stroke="#983a97" stroke-width="1.1" stroke-opacity="0.6"/>
<path d="M571.73,54.9 L564.62,57.79 L566.05,54.9 L564.62,52.01 Z" fill="#983a97"/>
<line x1="575.17" y1="54.9" x2="580.6" y2="54.9" stroke="#a13d91" stroke-width="1.1" stroke-opacity="0.6"/>
<path d="M586.83,54.9 L579.6,57.84 L581.05,54.9 L579.6,51.96 Z" fill="#a13d91"/>
<line x1="590.06" y1="54.9" x2="595.57" y2="54.9" stroke="#a9408b" stroke-width="1.1" stroke-opacity="0.6"/>
<path d="M601.94,54.9 L594.57,57.89 L596.05,54.9 L594.57,51.91 Z" fill="#a9408b"/>
<line x1="604.93" y1="54.9" x2="610.54" y2="54.9" stroke="#b24582" stroke-width="1.1" stroke-opacity="0.6"/>
<path d="M617.07,54.9 L609.54,57.95 L611.05,54.9 L609.54,51.85 Z" fill="#b24582"/>
<line x1="619.8" y1="54.9" x2="625.51" y2="54.9" stroke="#bc4978" stroke-width="1.1" stroke-opacity="0.6"/>
<path d="M632.2,54.9 L624.51,58.01 L626.05,54.9 L624.51,51.79 Z" fill="#bc4978"/>
<line x1="463.03" y1="64" x2="467.31" y2="64" stroke="#8331a6" stroke-width="1.1" stroke-opacity="0.6"/>
<path d="M473.97,64 L466.31,67.15 L467.84,64 L466.31,60.85 Z" fill="#8331a6"/>
<line x1="478.03" y1="64" x2="482.31" y2="64" stroke="#8331a6" stroke-width="1.1" stroke-opacity="0.6"/>
<path d="M488.97,64 L481.31,67.15 L482.84,64 L481.31,60.85 Z" fill="#8331a6"/>
<line x1="493.03" y1="64" x2="497.31" y2="64" stroke="#8331a6" stroke-width="1.1" stroke-opacity="0.6"/>
<path d="M503.97,64 L496.31,67.15 L497.84,64 L496.31,60.85 Z" fill="#8331a6"/>
<line x1="508.03" y1="64" x2="512.31" y2="64" stroke="#8331a6" stroke-width="1.1" stroke-opacity="0.6"/>
<path d="M518.97,64 L511.31,67.15 L512.84,64 L511.31,60.85 Z" fill="#8331a6"/>
<line x1="523" y1="64" x2="527.3" y2="64" stroke="#8532a4" stroke-width="1.1" stroke-opacity="0.6"/>
<path d="M534,64 L526.3,67.17 L527.84,64 L526.3,60.83 Z" fill="#8532a4"/>
<line x1="537.95" y1="64" x2="542.28" y2="64" stroke="#8934a1" stroke-width="1.1" stroke-opacity="0.6"/>
<path d="M549.05,64 L541.28,67.2 L542.83,64 L541.28,60.8 Z" fill="#8934a1"/>
<line x1="552.82" y1="64" x2="557.23" y2="64" stroke="#94389a" stroke-width="1.1" stroke-opacity="0.6"/>
<path d="M564.18,64 L556.23,67.27 L557.82,64 L556.23,60.73 Z" fill="#94389a"/>
<line x1="567.64" y1="64" x2="573.09" y2="64" stroke="#a33e90" stroke-width="1.1" stroke-opacity="0.6"/>
<path d="M579.36,64 L572.09,66.95 L573.55,64 L572.09,61.05 Z" fill="#a33e90"/>
<line x1="582.46" y1="64" x2="588.05" y2="64" stroke="#b04484" stroke-width="1.1" stroke-opacity="0.6"/>
<path d="M594.54,64 L587.05,67.04 L588.55,64 L587.05,60.96 Z" fill="#b04484"/>
<line x1="597.3" y1="64" x2="603.01" y2="64" stroke="#bc4978" stroke-width="1.1" stroke-opacity="0.6"/>
<path d="M609.7,64 L602.01,67.11 L603.55,64 L602.01,60.89 Z" fill="#bc4978"/>
<line x1="612.17" y1="64" x2="617.98" y2="64" stroke="#c54d6f" stroke-width="1.1" stroke-opacity="0.6"/>
<path d="M624.83,64 L616.98,67.17 L618.55,64 L616.98,60.83 Z" fill="#c54d6f"/>
<line x1="627.07" y1="64" x2="632.96" y2="64" stroke="#cd5166" stroke-width="1.1" stroke-opacity="0.6"/>
<path d="M639.93,64 L631.96,67.22 L633.55,64 L631.96,60.78 Z" fill="#cd5166"/>
<line x1="470.61" y1="73.1" x2="474.84" y2="73.1" stroke="#7d2fa9" stroke-width="1.1" stroke-opacity="0.6"/>
<path d="M481.39,73.1 L473.84,76.21 L475.35,73.1 L473.84,69.99 Z" fill="#7d2fa9"/>
<line x1="485.61" y1="73.1" x2="489.84" y2="73.1" stroke="#7d2fa9" stroke-width="1.1" stroke-opacity="0.6"/>
<path d="M496.39,73.1 L488.84,76.21 L490.35,73.1 L488.84,69.99 Z" fill="#7d2fa9"/>
<line x1="500.61" y1="73.1" x2="504.84" y2="73.1" stroke="#7d2fa9" stroke-width="1.1" stroke-opacity="0.6"/>
<path d="M511.39,73.1 L503.84,76.21 L505.35,73.1 L503.84,69.99 Z" fill="#7d2fa9"/>
<line x1="515.58" y1="73.1" x2="519.83" y2="73.1" stroke="#7f2fa8" stroke-width="1.1" stroke-opacity="0.6"/>
<path d="M526.42,73.1 L518.83,76.23 L520.35,73.1 L518.83,69.97 Z" fill="#7f2fa8"/>
<line x1="530.53" y1="73.1" x2="534.81" y2="73.1" stroke="#8331a6" stroke-width="1.1" stroke-opacity="0.6"/>
<path d="M541.47,73.1 L533.81,76.25 L535.34,73.1 L533.81,69.95 Z" fill="#8331a6"/>
<line x1="545.32" y1="73.1" x2="549.73" y2="73.1" stroke="#94389a" stroke-width="1.1" stroke-opacity="0.6"/>
<path d="M556.68,73.1 L548.73,76.37 L550.32,73.1 L548.73,69.83 Z" fill="#94389a"/>
<line x1="559.78" y1="73.1" x2="565.51" y2="73.1" stroke="#be4a76" stroke-width="1.1" stroke-opacity="0.6"/>
<path d="M572.22,73.1 L564.51,76.23 L566.05,73.1 L564.51,69.97 Z" fill="#be4a76"/>
<line x1="574.59" y1="73.1" x2="580.46" y2="73.1" stroke="#cb5069" stroke-width="1.1" stroke-opacity="0.6"/>
<path d="M587.41,73.1 L579.46,76.31 L581.05,73.1 L579.46,69.89 Z" fill="#cb5069"/>
<line x1="589.46" y1="73.1" x2="595.43" y2="73.1" stroke="#d45559" stroke-width="1.1" stroke-opacity="0.6"/>
<path d="M602.54,73.1 L594.43,76.37 L596.05,73.1 L594.43,69.83 Z" fill="#d45559"/>
<line x1="604.39" y1="73.1" x2="610.41" y2="73.1" stroke="#d9594f" stroke-width="1.1" stroke-opacity="0.6"/>
<path d="M617.61,73.1 L609.41,76.41 L611.05,73.1 L609.41,69.79 Z" fill="#d9594f"/>
<line x1="619.31" y1="73.1" x2="625.39" y2="73.1" stroke="#de5c45" stroke-width="1.1" stroke-opacity="0.6"/>
<path d="M632.69,73.1 L624.39,76.45 L626.05,73.1 L624.39,69.75 Z" fill="#de5c45"/>
<line x1="463.26" y1="82.2" x2="467.41" y2="82.2" stroke="#7029ab" stroke-width="1.1" stroke-opacity="0.6"/>
<path d="M473.74,82.2 L466.41,85.23 L467.87,82.2 L466.41,79.17 Z" fill="#7029ab"/>
<line x1="478.26" y1="82.2" x2="482.41" y2="82.2" stroke="#7029ab" stroke-width="1.1" stroke-opacity="0.6"/>
<path d="M488.74,82.2 L481.41,85.23 L482.87,82.2 L481.41,79.17 Z" fill="#7029ab"/>
<line x1="493.24" y1="82.2" x2="497.4" y2="82.2" stroke="#722aab" stroke-width="1.1" stroke-opacity="0.6"/>
<path d="M503.76,82.2 L496.4,85.24 L497.87,82.2 L496.4,79.16 Z" fill="#722aab"/>
<line x1="508.19" y1="82.2" x2="512.37" y2="82.2" stroke="#762caa" stroke-width="1.1" stroke-opacity="0.6"/>
<path d="M518.81,82.2 L511.37,85.27 L512.86,82.2 L511.37,79.13 Z" fill="#762caa"/>
<line x1="522.95" y1="82.98" x2="527.27" y2="82.37" stroke="#8e359f" stroke-width="1.1" stroke-opacity="0.6"/>
<path d="M534.05,81.42 L526.73,85.7 L527.83,82.29 L525.83,79.32 Z" fill="#8e359f"/>
<line x1="537.59" y1="83.78" x2="543.05" y2="82.32" stroke="#b6467e" stroke-width="1.1" stroke-opacity="0.6"/>
<path d="M549.41,80.62 L542.88,85.55 L543.55,82.19 L541.29,79.61 Z" fill="#b6467e"/>
<line x1="552.14" y1="83.32" x2="557.96" y2="82.3" stroke="#cf5263" stroke-width="1.1" stroke-opacity="0.6"/>
<path d="M564.86,81.08 L557.54,85.66 L558.55,82.19 L556.41,79.28 Z" fill="#cf5263"/>
<line x1="566.86" y1="82.78" x2="572.9" y2="82.25" stroke="#dc5b49" stroke-width="1.1" stroke-opacity="0.6"/>
<path d="M580.14,81.62 L572.2,85.66 L573.55,82.2 L571.62,79.02 Z" fill="#dc5b49"/>
<line x1="581.64" y1="82.56" x2="587.85" y2="82.23" stroke="#eb642a" stroke-width="1.1" stroke-opacity="0.6"/>
<path d="M595.36,81.84 L587.03,85.71 L588.55,82.2 L586.67,78.86 Z" fill="#eb642a"/>
<line x1="596.44" y1="82.2" x2="602.81" y2="82.2" stroke="#f86c0a" stroke-width="1.1" stroke-opacity="0.6"/>
<path d="M610.56,82.2 L601.81,85.72 L603.56,82.2 L601.81,78.68 Z" fill="#f86c0a"/>
<line x1="611.26" y1="82.2" x2="617.76" y2="82.2" stroke="#fc7800" stroke-width="1.1" stroke-opacity="0.6"/>
<path d="M625.74,82.2 L616.76,85.8 L618.56,82.2 L616.76,78.6 Z" fill="#fc7800"/>
<line x1="626.16" y1="82.2" x2="632.74" y2="82.2" stroke="#fc7f00" stroke-width="1.1" stroke-opacity="0.6"/>
<path d="M640.84,82.2 L631.74,85.85 L633.56,82.2 L631.74,78.55 Z" fill="#fc7f00"/>
<line x1="470.84" y1="91.3" x2="474.94" y2="91.3" stroke="#6926ad" stroke-width="1.1" stroke-opacity="0.6"/>
<path d="M481.16,91.3 L473.94,94.29 L475.38,91.3 L473.94,88.31 Z" fill="#6926ad"/>
<line x1="485.79" y1="91.3" x2="489.92" y2="91.3" stroke="#6e28ac" stroke-width="1.1" stroke-opacity="0.6"/>
<path d="M496.21,91.3 L488.92,94.31 L490.37,91.3 L488.92,88.29 Z" fill="#6e28ac"/>
<line x1="500.53" y1="92.07" x2="504.8" y2="91.47" stroke="#8733a3" stroke-width="1.1" stroke-opacity="0.6"/>
<path d="M511.47,90.53 L504.26,94.76 L505.34,91.39 L503.37,88.46 Z" fill="#8733a3"/>
<line x1="514.91" y1="92.93" x2="520.5" y2="91.43" stroke="#c34c71" stroke-width="1.1" stroke-opacity="0.6"/>
<path d="M527.09,89.67 L520.36,94.75 L521.05,91.29 L518.72,88.64 Z" fill="#c34c71"/>
<line x1="529.3" y1="92.72" x2="535.37" y2="91.43" stroke="#e9632e" stroke-width="1.1" stroke-opacity="0.6"/>
<path d="M542.7,89.88 L535.1,94.99 L536.05,91.29 L533.68,88.3 Z" fill="#e9632e"/>
<line x1="543.91" y1="92.3" x2="550.29" y2="91.4" stroke="#fc7200" stroke-width="1.1" stroke-opacity="0.6"/>
<path d="M558.09,90.3 L549.79,95.07 L551.06,91.29 L548.8,88.01 Z" fill="#fc7200"/>
<line x1="558.7" y1="92.07" x2="565.24" y2="91.38" stroke="#fc7f00" stroke-width="1.1" stroke-opacity="0.6"/>
<path d="M573.3,90.53 L564.63,95.11 L566.06,91.29 L563.87,87.85 Z" fill="#fc7f00"/>
<line x1="573.63" y1="91.94" x2="580.23" y2="91.37" stroke="#fc8300" stroke-width="1.1" stroke-opacity="0.6"/>
<path d="M588.37,90.66 L579.55,95.12 L581.06,91.29 L578.91,87.79 Z" fill="#fc8300"/>
<line x1="588.62" y1="91.82" x2="595.23" y2="91.35" stroke="#fc8300" stroke-width="1.1" stroke-opacity="0.6"/>
<path d="M603.38,90.78 L594.49,95.09 L596.06,91.3 L593.97,87.76 Z" fill="#fc8300"/>
<line x1="603.64" y1="91.69" x2="610.23" y2="91.34" stroke="#fc8100" stroke-width="1.1" stroke-opacity="0.6"/>
<path d="M618.36,90.91 L609.43,95.05 L611.06,91.3 L609.04,87.73 Z" fill="#fc8100"/>
<line x1="618.67" y1="91.68" x2="625.24" y2="91.34" stroke="#fc7f00" stroke-width="1.1" stroke-opacity="0.6"/>
<path d="M633.33,90.92 L624.43,95.04 L626.06,91.3 L624.05,87.75 Z" fill="#fc7f00"/>
<line x1="463.65" y1="100.4" x2="467.56" y2="100.4" stroke="#4d1bb3" stroke-width="1.1" stroke-opacity="0.6"/>
<path d="M473.35,100.4 L466.56,103.22 L467.92,100.4 L466.56,97.58 Z" fill="#4d1bb3"/>
<line x1="478.55" y1="100.4" x2="482.52" y2="100.4" stroke="#581fb1" stroke-width="1.1" stroke-opacity="0.6"/>
<path d="M488.45,100.4 L481.52,103.27 L482.91,100.4 L481.52,97.53 Z" fill="#581fb1"/>
<line x1="493.56" y1="102.2" x2="497.46" y2="100.78" stroke="#722aab" stroke-width="1.1" stroke-opacity="0.6"/>
<path d="M503.44,98.6 L497.56,103.98 L497.91,100.62 L495.48,98.26 Z" fill="#722aab"/>
<line x1="507.68" y1="102.52" x2="513.04" y2="100.57" stroke="#bc4978" stroke-width="1.1" stroke-opacity="0.6"/>
<path d="M519.32,98.28 L513.17,103.83 L513.55,100.38 L511.04,97.98 Z" fill="#bc4978"/>
<line x1="521.63" y1="102.24" x2="527.82" y2="100.58" stroke="#fc6e00" stroke-width="1.1" stroke-opacity="0.6"/>
<path d="M535.37,98.56 L527.77,104.26 L528.55,100.39 L525.94,97.42 Z" fill="#fc6e00"/>
<line x1="536.06" y1="101.71" x2="542.7" y2="100.54" stroke="#fc8c00" stroke-width="1.1" stroke-opacity="0.6"/>
<path d="M550.94,99.09 L542.37,104.41 L543.56,100.39 L541.06,97.02 Z" fill="#fc8c00"/>
<line x1="551.01" y1="101.32" x2="557.69" y2="100.5" stroke="#fc8c00" stroke-width="1.1" stroke-opacity="0.6"/>
<path d="M565.99,99.48 L557.16,104.34 L558.56,100.39 L556.24,96.9 Z" fill="#fc8c00"/>
<line x1="566.04" y1="101.18" x2="572.7" y2="100.48" stroke="#fc8900" stroke-width="1.1" stroke-opacity="0.6"/>
<path d="M580.96,99.62 L572.1,104.29 L573.56,100.39 L571.32,96.88 Z" fill="#fc8900"/>
<line x1="581.11" y1="101.05" x2="587.72" y2="100.47" stroke="#fc8500" stroke-width="1.1" stroke-opacity="0.6"/>
<path d="M595.89,99.75 L587.05,104.23 L588.56,100.39 L586.4,96.88 Z" fill="#fc8500"/>
<line x1="596.18" y1="100.91" x2="602.74" y2="100.45" stroke="#fc7f00" stroke-width="1.1" stroke-opacity="0.6"/>
<path d="M610.82,99.89 L602,104.16 L603.56,100.4 L601.49,96.88 Z" fill="#fc7f00"/>
<line x1="611.28" y1="100.9" x2="617.76" y2="100.45" stroke="#fc7800" stroke-width="1.1" stroke-opacity="0.6"/>
<path d="M625.72,99.9 L617.02,104.11 L618.56,100.4 L616.52,96.93 Z" fill="#fc7800"/>
<line x1="626.4" y1="100.77" x2="632.8" y2="100.44" stroke="#fc6e00" stroke-width="1.1" stroke-opacity="0.6"/>
<path d="M640.6,100.03 L631.98,104.03 L633.56,100.4 L631.61,96.95 Z" fill="#fc6e00"/>
<line x1="471.18" y1="109.5" x2="475.07" y2="109.5" stroke="#4a1ab4" stroke-width="1.1" stroke-opacity="0.6"/>
<path d="M480.82,109.5 L474.07,112.3 L475.42,109.5 L474.07,106.7 Z" fill="#4a1ab4"/>
<line x1="486.58" y1="112.26" x2="490.08" y2="110.07" stroke="#6e28ac" stroke-width="1.1" stroke-opacity="0.6"/>
<path d="M495.42,106.74 L490.83,113.16 L490.47,109.83 L487.64,108.05 Z" fill="#6e28ac"/>
<line x1="500.23" y1="112.83" x2="505.48" y2="109.8" stroke="#dc5b49" stroke-width="1.1" stroke-opacity="0.6"/>
<path d="M511.77,106.17 L506.28,113.19 L506.05,109.47 L502.95,107.41 Z" fill="#dc5b49"/>
<line x1="513.66" y1="112.17" x2="520.18" y2="109.8" stroke="#fd9a00" stroke-width="1.1" stroke-opacity="0.6"/>
<path d="M528.34,106.83 L520.56,113.78 L521.06,109.48 L517.91,106.5 Z" fill="#fd9a00"/>
<line x1="528.36" y1="111.12" x2="535.14" y2="109.68" stroke="#fd9a00" stroke-width="1.1" stroke-opacity="0.6"/>
<path d="M543.64,107.88 L534.97,113.68 L536.06,109.49 L533.36,106.1 Z" fill="#fd9a00"/>
<line x1="543.35" y1="110.44" x2="550.16" y2="109.6" stroke="#fd9400" stroke-width="1.1" stroke-opacity="0.6"/>
<path d="M558.65,108.56 L549.63,113.52 L551.06,109.49 L548.7,105.93 Z" fill="#fd9400"/>
<line x1="558.52" y1="110.02" x2="565.2" y2="109.56" stroke="#fc8900" stroke-width="1.1" stroke-opacity="0.6"/>
<path d="M573.48,108.98 L564.46,113.34 L566.06,109.5 L563.95,105.91 Z" fill="#fc8900"/>
<line x1="573.67" y1="109.88" x2="580.24" y2="109.54" stroke="#fc7f00" stroke-width="1.1" stroke-opacity="0.6"/>
<path d="M588.33,109.12 L579.43,113.24 L581.06,109.5 L579.05,105.95 Z" fill="#fc7f00"/>
<line x1="588.97" y1="109.75" x2="595.31" y2="109.52" stroke="#f66b0e" stroke-width="1.1" stroke-opacity="0.6"/>
<path d="M603.03,109.25 L594.44,113.06 L596.06,109.5 L594.19,106.06 Z" fill="#f66b0e"/>
<line x1="604.23" y1="109.74" x2="610.38" y2="109.52" stroke="#e3603b" stroke-width="1.1" stroke-opacity="0.6"/>
<path d="M617.77,109.26 L609.49,112.94 L611.05,109.5 L609.26,106.18 Z" fill="#e3603b"/>
<line x1="619.41" y1="109.61" x2="625.42" y2="109.51" stroke="#d75753" stroke-width="1.1" stroke-opacity="0.6"/>
<path d="M632.59,109.39 L624.48,112.82 L626.05,109.5 L624.36,106.23 Z" fill="#d75753"/>
<line x1="463.78" y1="118.6" x2="467.61" y2="118.6" stroke="#3f17b6" stroke-width="1.1" stroke-opacity="0.6"/>
<path d="M473.22,118.6 L466.61,121.35 L467.93,118.6 L466.61,115.85 Z" fill="#3f17b6"/>
<line x1="480.1" y1="122.38" x2="482.81" y2="119.37" stroke="#6324ae" stroke-width="1.1" stroke-opacity="0.6"/>
<path d="M486.9,114.82 L484.33,122.08 L483.09,119.05 L479.95,118.14 Z" fill="#6324ae"/>
<line x1="492.92" y1="122.96" x2="497.95" y2="119.03" stroke="#fa6d05" stroke-width="1.1" stroke-opacity="0.6"/>
<path d="M504.08,114.24 L499.33,122.43 L498.54,118.57 L494.99,116.87 Z" fill="#fa6d05"/>
<line x1="506.21" y1="122.47" x2="512.63" y2="119.06" stroke="#fdb400" stroke-width="1.1" stroke-opacity="0.6"/>
<path d="M520.79,114.73 L513.67,123.13 L513.56,118.57 L509.84,115.93 Z" fill="#fdb400"/>
<line x1="521.11" y1="120.17" x2="527.71" y2="118.77" stroke="#fc8c00" stroke-width="1.1" stroke-opacity="0.6"/>
<path d="M535.89,117.03 L527.51,122.64 L528.56,118.59 L525.95,115.31 Z" fill="#fc8c00"/>
<line x1="536.28" y1="119.61" x2="542.76" y2="118.7" stroke="#fc7b00" stroke-width="1.1" stroke-opacity="0.6"/>
<path d="M550.72,117.59 L542.27,122.43 L543.56,118.59 L541.26,115.25 Z" fill="#fc7b00"/>
<line x1="551.48" y1="118.97" x2="557.81" y2="118.64" stroke="#f66b0e" stroke-width="1.1" stroke-opacity="0.6"/>
<path d="M565.52,118.23 L557,122.19 L558.56,118.6 L556.63,115.19 Z" fill="#f66b0e"/>
<line x1="566.91" y1="118.6" x2="572.92" y2="118.6" stroke="#d75753" stroke-width="1.1" stroke-opacity="0.6"/>
<path d="M580.09,118.6 L571.92,121.9 L573.55,118.6 L571.92,115.3 Z" fill="#d75753"/>
<line x1="582.04" y1="118.6" x2="587.95" y2="118.6" stroke="#cf5263" stroke-width="1.1" stroke-opacity="0.6"/>
<path d="M594.96,118.6 L586.95,121.84 L588.55,118.6 L586.95,115.36 Z" fill="#cf5263"/>
<line x1="597.25" y1="118.38" x2="603" y2="118.58" stroke="#c04b74" stroke-width="1.1" stroke-opacity="0.6"/>
<path d="M609.75,118.82 L601.89,121.68 L603.55,118.6 L602.11,115.41 Z" fill="#c04b74"/>
<line x1="612.47" y1="118.28" x2="618.05" y2="118.58" stroke="#b04484" stroke-width="1.1" stroke-opacity="0.6"/>
<path d="M624.53,118.92 L616.89,121.56 L618.55,118.6 L617.21,115.49 Z" fill="#b04484"/>
<line x1="627.71" y1="118.09" x2="633.11" y2="118.57" stroke="#9e3c93" stroke-width="1.1" stroke-opacity="0.6"/>
<path d="M639.29,119.11 L631.86,121.4 L633.55,118.6 L632.37,115.56 Z" fill="#9e3c93"/>
<line x1="474.38" y1="130.51" x2="475.85" y2="127.96" stroke="#3d16b7" stroke-width="1.1" stroke-opacity="0.6"/>
<path d="M477.62,124.89 L477.04,129.8 L475.81,128.04 L473.66,127.85 Z" fill="#3d16b7"/>
<line x1="486.13" y1="131.78" x2="490.6" y2="128.04" stroke="#c74e6d" stroke-width="1.1" stroke-opacity="0.6"/>
<path d="M495.87,123.62 L491.88,131.12 L491.04,127.67 L487.78,126.24 Z" fill="#c74e6d"/>
<line x1="499.64" y1="131.37" x2="505.34" y2="128.08" stroke="#fc7f00" stroke-width="1.1" stroke-opacity="0.6"/>
<path d="M512.36,124.03 L506.3,131.74 L506.05,127.67 L502.65,125.42 Z" fill="#fc7f00"/>
<line x1="514.08" y1="128.92" x2="520.32" y2="127.82" stroke="#f66b0e" stroke-width="1.1" stroke-opacity="0.6"/>
<path d="M527.92,126.48 L519.95,131.44 L521.06,127.69 L518.73,124.54 Z" fill="#f66b0e"/>
<line x1="529.57" y1="128.26" x2="535.45" y2="127.75" stroke="#cf5263" stroke-width="1.1" stroke-opacity="0.6"/>
<path d="M542.43,127.14 L534.74,131.06 L536.05,127.7 L534.17,124.61 Z" fill="#cf5263"/>
<line x1="544.88" y1="127.7" x2="550.53" y2="127.7" stroke="#b6467e" stroke-width="1.1" stroke-opacity="0.6"/>
<path d="M557.12,127.7 L549.53,130.78 L551.05,127.7 L549.53,124.62 Z" fill="#b6467e"/>
<line x1="560.06" y1="127.7" x2="565.57" y2="127.7" stroke="#a9408b" stroke-width="1.1" stroke-opacity="0.6"/>
<path d="M571.94,127.7 L564.57,130.69 L566.05,127.7 L564.57,124.71 Z" fill="#a9408b"/>
<line x1="575.32" y1="127.7" x2="579.73" y2="127.7" stroke="#94389a" stroke-width="1.1" stroke-opacity="0.6"/>
<path d="M586.68,127.7 L578.73,130.97 L580.32,127.7 L578.73,124.43 Z" fill="#94389a"/>
<line x1="590.49" y1="127.31" x2="594.79" y2="127.62" stroke="#8733a3" stroke-width="1.1" stroke-opacity="0.6"/>
<path d="M601.51,128.09 L593.57,130.72 L595.34,127.65 L594.02,124.37 Z" fill="#8733a3"/>
<line x1="605.84" y1="126.22" x2="609.9" y2="127.38" stroke="#7a2ea9" stroke-width="1.1" stroke-opacity="0.6"/>
<path d="M616.16,129.18 L608.08,130.09 L610.38,127.52 L609.79,124.13 Z" fill="#7a2ea9"/>
<line x1="621.12" y1="125.73" x2="624.98" y2="127.29" stroke="#722aab" stroke-width="1.1" stroke-opacity="0.6"/>
<path d="M630.88,129.67 L622.91,129.73 L625.41,127.46 L625.19,124.09 Z" fill="#722aab"/>
<line x1="464.02" y1="136.8" x2="467.71" y2="136.8" stroke="#250fbd" stroke-width="1.1" stroke-opacity="0.6"/>
<path d="M472.98,136.8 L466.71,139.42 L467.96,136.8 L466.71,134.18 Z" fill="#250fbd"/>
<line x1="481.07" y1="139.91" x2="483.14" y2="137.26" stroke="#5c21af" stroke-width="1.1" stroke-opacity="0.6"/>
<path d="M485.93,133.69 L484.37,139.48 L483.21,137.17 L480.69,136.61 Z" fill="#5c21af"/>
<line x1="495.56" y1="139.44" x2="498.07" y2="137.19" stroke="#6926ad" stroke-width="1.1" stroke-opacity="0.6"/>
<path d="M501.44,134.16 L498.89,139.59 L498.15,137.12 L495.76,136.12 Z" fill="#6926ad"/>
<line x1="510.3" y1="139.12" x2="513.03" y2="137.14" stroke="#782daa" stroke-width="1.1" stroke-opacity="0.6"/>
<path d="M516.7,134.48 L513.59,139.62 L513.12,137.08 L510.85,135.84 Z" fill="#782daa"/>
<line x1="523.28" y1="137.26" x2="527.41" y2="136.9" stroke="#7029ab" stroke-width="1.1" stroke-opacity="0.6"/>
<path d="M533.72,136.34 L526.68,140 L527.87,136.85 L526.15,133.97 Z" fill="#7029ab"/>
<line x1="538.34" y1="136.8" x2="542.44" y2="136.8" stroke="#6926ad" stroke-width="1.1" stroke-opacity="0.6"/>
<path d="M548.66,136.8 L541.44,139.79 L542.88,136.8 L541.44,133.81 Z" fill="#6926ad"/>
<line x1="553.6" y1="136.8" x2="557.54" y2="136.8" stroke="#521db2" stroke-width="1.1" stroke-opacity="0.6"/>
<path d="M563.4,136.8 L556.54,139.64 L557.91,136.8 L556.54,133.96 Z" fill="#521db2"/>
<line x1="568.65" y1="136.8" x2="572.56" y2="136.8" stroke="#4d1bb3" stroke-width="1.1" stroke-opacity="0.6"/>
<path d="M578.35,136.8 L571.56,139.62 L572.92,136.8 L571.56,133.98 Z" fill="#4d1bb3"/>
<line x1="583.71" y1="136.8" x2="587.58" y2="136.8" stroke="#4819b4" stroke-width="1.1" stroke-opacity="0.6"/>
<path d="M593.29,136.8 L586.58,139.59 L587.92,136.8 L586.58,134.01 Z" fill="#4819b4"/>
<line x1="601.86" y1="133.71" x2="603.31" y2="136.45" stroke="#2810bc" stroke-width="1.1" stroke-opacity="0.6"/>
<path d="M605.14,139.89 L601,136.55 L603.3,136.43 L604.69,134.58 Z" fill="#2810bc"/>
<line x1="616.86" y1="133.71" x2="618.31" y2="136.45" stroke="#2810bc" stroke-width="1.1" stroke-opacity="0.6"/>
<path d="M620.14,139.89 L616,136.55 L618.3,136.43 L619.69,134.58 Z" fill="#2810bc"/>
<line x1="631.86" y1="133.71" x2="633.31" y2="136.45" stroke="#2810bc" stroke-width="1.1" stroke-opacity="0.6"/>
<path d="M635.14,139.89 L631,136.55 L633.3,136.43 L634.69,134.58 Z" fill="#2810bc"/>
<text x="457.9" y="19.25" font-size="9.9" font-weight="bold" text-anchor="end" fill="#111" >100</text>
<text x="457.9" y="45.3" font-size="9.9" font-weight="bold" text-anchor="end" fill="#111" >80</text>
<text x="457.9" y="69.7" font-size="9.9" font-weight="bold" text-anchor="end" fill="#111" >60</text>
<text x="457.9" y="95.4" font-size="9.9" font-weight="bold" text-anchor="end" fill="#111" >40</text>
<text x="457.9" y="120" font-size="9.9" font-weight="bold" text-anchor="end" fill="#111" >20</text>
<text x="457.9" y="144.4" font-size="9.9" font-weight="bold" text-anchor="end" fill="#111" >0</text>
<text x="472.7" y="149.9" font-size="9.5" font-weight="bold" text-anchor="middle" fill="#111" >0</text>
<text x="514.1" y="149.9" font-size="9.5" font-weight="bold" text-anchor="middle" fill="#111" >1</text>
<text x="556" y="149.9" font-size="9.5" font-weight="bold" text-anchor="middle" fill="#111" >2</text>
<text x="596.5" y="149.9" font-size="9.5" font-weight="bold" text-anchor="middle" fill="#111" >3</text>
<text x="636.7" y="149.9" font-size="9.5" font-weight="bold" text-anchor="middle" fill="#111" >4</text>
<text x="554.3" y="161.9" font-size="10.2" font-weight="bold" text-anchor="middle" fill="#111" >X (cm)</text>
<text x="0" y="0" font-size="10" font-weight="bold" text-anchor="middle" fill="#111" textLength="32.4" lengthAdjust="spacingAndGlyphs" transform="translate(438.2,81.8) rotate(-90)">Z (μm)</text>
<text x="427" y="10" font-size="12" font-weight="bold" text-anchor="start" fill="#111" >(c)</text>
<rect x="477.4" y="141.3" width="32.6" height="3.3" fill="#ffdd66" stroke="#b89038" stroke-width="0.6" />
<rect x="601.3" y="141.3" width="32.6" height="3.3" fill="#0072c4" stroke="#00509a" stroke-width="0.6" />
<text x="493.1" y="155.4" font-size="7.9" font-weight="bold" text-anchor="middle" fill="#fff" stroke="#222" stroke-width="1.6" paint-order="stroke">Anode</text>
<text x="617.7" y="155.4" font-size="7.8" font-weight="bold" text-anchor="middle" fill="#fff" stroke="#222" stroke-width="1.6" paint-order="stroke">Cathode</text>
<rect x="647.3" y="14.4" width="8.1" height="123.5" fill="url(#cbg)" stroke="none" stroke-width="1" />
<text x="658.8" y="21" font-size="9.7" font-weight="bold" text-anchor="start" fill="#111" >18</text>
<text x="658.8" y="40.4" font-size="9.7" font-weight="bold" text-anchor="start" fill="#111" >15</text>
<text x="658.8" y="60.6" font-size="9.7" font-weight="bold" text-anchor="start" fill="#111" >13</text>
<text x="658.8" y="81.85" font-size="9.7" font-weight="bold" text-anchor="start" fill="#111" >10</text>
<text x="658.8" y="102.7" font-size="9.7" font-weight="bold" text-anchor="start" fill="#111" >8</text>
<text x="658.8" y="121.85" font-size="9.7" font-weight="bold" text-anchor="start" fill="#111" >5</text>
<text x="658.8" y="139.6" font-size="9.7" font-weight="bold" text-anchor="start" fill="#111" >3</text>
<text x="0" y="0" font-size="10.6" font-weight="bold" text-anchor="middle" fill="#111" transform="translate(682.6,70.6) rotate(-90)">CO<tspan font-size="7" dy="2.2">2</tspan><tspan dy="-2.2"> flux (mol·m</tspan><tspan font-size="7" dy="-3.8">-2</tspan><tspan dy="3.8">·s</tspan><tspan font-size="7" dy="-3.8">-1</tspan><tspan dy="3.8">)</tspan></text>
<line x1="44.8" y1="174.6" x2="44.8" y2="310" stroke="#a4c2f6" stroke-width="1.5" />
<polyline points="45.2,260.05 45.4,248.24 45.9,238.99 46.5,233.08 47.1,230.08 48,226.11 49,224.47 49.8,222.51 51,220.85 52.5,219.46 54,217.28 56,215.68 58,214.41 60,213.2 62,211.81 64,210.27 66,209.1 68,207.19 70,206.2 72,204.13 73.5,203.35 74.6,203.92 75,203.59 75.43,208.77 75.85,212.36 76.28,215.27 76.7,218.29 77.13,219.96 77.55,221.32 77.98,222.85 78.41,224.72 78.83,225.78 79.26,225.55 79.68,227.18 80.11,227.91 80.53,227.7 80.96,228.15 81.39,227.9 81.81,228.67 82.24,228.83 82.66,229.17 83.09,228.45 83.51,229.99 83.94,229.42 84.37,229.33 84.79,230.01 85.22,229.72 85.64,229.67 86.07,230.01 86.49,229.12 86.92,229.86 87.35,229.71 87.77,230.55 88.2,230.52 88.62,229.57 89.05,229.89 89.47,229.39 89.9,229.87 90.33,230.46 90.75,230.6 91.18,229.98 91.6,231.06 92.03,230.88 92.45,230.24 92.88,230.71 93.31,229.53 93.73,230.52 94.16,229.39 94.58,229.66 95.01,229.73 95.43,230.43 95.86,229.89 96.29,229.95 96.71,230.36 97.14,229.6 97.56,230.55 97.99,229.65 98.41,230.24 98.84,229.87 99.27,229.8 99.69,230.31 100.12,230.18 100.54,230.1 100.97,230.17 101.39,230.35 101.82,229.81 102.25,229.89 102.67,230.54 103.1,230.56 103.52,230.41 103.95,230.9 104.37,229.56 104.8,229.94 104.8,228.53 105.23,232.02 105.65,233.52 106.08,234.79 106.5,234.82 106.93,235.57 107.35,237.09 107.78,236.52 108.2,238.1 108.63,238.26 109.05,237.39 109.48,237.77 109.9,238.68 110.33,238.13 110.75,238.01 111.18,239.21 111.61,238.68 112.03,239.3 112.46,238.37 112.88,238.83 113.31,239.3 113.73,238.34 114.16,238.64 114.58,239.4 115.01,239.77 115.43,239.87 115.86,238.62 116.28,239.22 116.71,239.62 117.14,239.25 117.56,239.54 117.99,238.81 118.41,238.65 118.84,238.72 119.26,238.63 119.69,239.42 120.11,239.37 120.54,239.47 120.96,238.85 121.39,238.92 121.81,238.96 122.24,239.93 122.66,240.17 123.09,240.08 123.52,238.85 123.94,238.81 124.37,240.16 124.79,239.44 125.22,239.91 125.64,239.26 126.07,239.48 126.49,239.57 126.92,239.45 127.34,239.72 127.77,237.75 128.19,238.8 128.62,240.13 129.05,239.14 129.47,239.57 129.9,240.01 130.32,239.52 130.75,239.22 131.17,239.18 131.6,239.72 132.02,238.98 132.45,240.31 132.87,240.19 133.3,240.06 133.72,240.3 134.15,239.97 134.57,238.44 135,238.75 135,237.56 135.43,241.41 135.85,242.65 136.28,243.01 136.7,244.91 137.13,245.37 137.55,245.99 137.98,246.49 138.41,246.24 138.83,247.26 139.26,247.47 139.68,247.39 140.11,247.65 140.53,247.79 140.96,247.36 141.39,247.94 141.81,247.05 142.24,247.54 142.66,247.8 143.09,247.18 143.51,247.77 143.94,248.25 144.37,248.29 144.79,247.76 145.22,248.89 145.64,248.52 146.07,248.08 146.49,248.62 146.92,248.54 147.35,248.54 147.77,248.37 148.2,249.34 148.62,248.86 149.05,249 149.47,249.14 149.9,249.52 150.33,248.13 150.75,249.08 151.18,249.31 151.6,248.64 152.03,248.91 152.45,248.43 152.88,248.7 153.31,249.02 153.73,248.66 154.16,248.94 154.58,249.97 155.01,249.49 155.43,249.48 155.86,250.22 156.29,249.67 156.71,250.37 157.14,249.88 157.56,250.19 157.99,249.14 158.41,249.97 158.84,250.27 159.27,249.25 159.69,251.83 160.12,250.72 160.54,250.04 160.97,249.64 161.39,250.18 161.82,250.41 162.25,249.63 162.67,251.01 163.1,250.28 163.52,250.49 163.95,249.64 164.37,249.35 164.8,250.28 164.8,250.51 165.22,251.76 165.65,252.43 166.07,253.94 166.49,253.99 166.91,254.11 167.34,254.88 167.76,254.93 168.18,255.38 168.61,256.51 169.03,256.16 169.45,257.08 169.87,257 170.3,256.07 170.72,257.59 171.14,257.62 171.57,256.4 171.99,257.73 172.41,257.09 172.83,257.23 173.26,258.05 173.68,257.02 174.1,257.5 174.53,258.19 174.95,257.93 175.37,257.61 175.79,258.43 176.22,258.25 176.64,257.99 177.06,257.32 177.49,258.14 177.91,257.95 178.33,257.63 178.75,257.46 179.18,258.23 179.6,257.69 180.02,258.22 180.45,258.62 180.87,258.36 181.29,258.13 181.71,258.67 182.14,258.48 182.56,259.08 182.98,258.76 183.41,259.52 183.83,259.51 184.25,259.25 184.67,258.56 185.1,258.43 185.52,259.66 185.94,260.76 186.37,260.57 186.79,259.03 187.21,258.96 187.63,259.64 188.06,259.52 188.48,259.62 188.9,259.74 189.33,259.98 189.75,259.19 190.17,259.34 190.59,260.49 191.02,260.46 191.44,260.46 191.86,259.26 192.29,259.35 192.71,259.72 193.13,260.01 193.55,260.37 193.98,259.65 194.4,260.36" fill="none" stroke="#f58c8c" stroke-width="1.25" stroke-linejoin="round" />
<polyline points="45.2,253.96 45.4,242.05 45.9,234.38 46.5,228.97 47.1,225.71 48,222.58 49,220.22 49.8,219.31 51,217.62 52.5,216.16 54,214.03 56,212.42 57.2,211.23 57.7,210.18 58.6,209.37 60,207.79 62,207.23 64,206.12 66,204.74 68,203.5 70,202.09 71.5,200.76 72.3,199.93 73.2,199.9 74,199.72 74.8,200.57 75.2,200.1 75.62,205.74 76.05,209.54 76.47,213.08 76.89,214.86 77.31,216.78 77.74,217.91 78.16,219.18 78.58,219.67 79,220.01 79.43,221.55 79.85,221.91 80.27,221.95 80.69,221.97 81.12,221.55 81.54,221.55 81.96,221.74 82.38,221.48 82.81,222.59 83.23,222.09 83.65,222.79 84.07,222.13 84.5,223.02 84.92,222.87 85.34,221.61 85.76,223.14 86.19,224.2 86.61,222.35 87.03,223.13 87.45,222.26 87.88,221.78 88.3,222.62 88.72,222.85 89.14,222.09 89.57,221.82 89.99,222.19 90.41,223.15 90.83,222.84 91.26,221.89 91.68,222.08 92.1,221.87 92.52,221.81 92.95,222.92 93.37,222 93.79,222.57 94.21,222.41 94.64,222.03 95.06,222.85 95.48,221.95 95.9,222.72 96.33,221.94 96.75,222.4 97.17,222.09 97.59,222.18 98.02,223.23 98.44,222.99 98.86,222.24 99.28,223.12 99.71,222.11 100.13,222.39 100.55,223.09 100.97,222.77 101.4,221.96 101.82,223.3 102.24,222.14 102.66,222.21 103.09,222.99 103.51,222.33 103.93,222.28 104.35,219.45 104.78,219.48 105.2,222.72 105.2,222.34 105.62,225.16 106.05,226.42 106.47,227.67 106.89,229.23 107.31,229.08 107.74,229.62 108.16,230.34 108.58,229.52 109,229.62 109.43,230.85 109.85,230.79 110.27,230 110.69,229.95 111.12,230.8 111.54,231.13 111.96,230.03 112.38,231.18 112.81,231.09 113.23,230.68 113.65,230.42 114.07,229.95 114.5,229.86 114.92,231.25 115.34,230.17 115.76,230.88 116.19,230.22 116.61,231.08 117.03,230.74 117.45,230.29 117.88,230.12 118.3,230.95 118.72,229.98 119.14,230.22 119.57,229.53 119.99,229.98 120.41,229.62 120.83,230.33 121.26,231.29 121.68,230.23 122.1,229.96 122.52,230.34 122.95,230.61 123.37,230.04 123.79,230.22 124.21,230.52 124.64,230.83 125.06,230.18 125.48,230.53 125.9,231.33 126.33,231.47 126.75,230.99 127.17,231.05 127.59,230.9 128.02,230.24 128.44,230.09 128.86,230.07 129.28,231.42 129.71,231.11 130.13,231.51 130.55,230.1 130.97,231.03 131.4,230.81 131.82,231.19 132.24,230.58 132.66,231.61 133.09,230.23 133.51,230.94 133.93,231.23 134.35,229.99 134.78,229.75 135.2,229.71 135.2,228.65 135.63,233.16 136.05,234.37 136.48,236.36 136.9,237.78 137.33,238.53 137.75,238.44 138.18,239.43 138.61,239.86 139.03,239.67 139.46,239.94 139.88,239.72 140.31,240.13 140.73,240.26 141.16,239.54 141.59,240.45 142.01,241.03 142.44,240.91 142.86,240.73 143.29,240.26 143.71,240.82 144.14,240.63 144.57,240.46 144.99,241.09 145.42,239.99 145.84,241.03 146.27,239.98 146.69,240.88 147.12,240.73 147.55,240.39 147.97,241.13 148.4,240.86 148.82,241.07 149.25,241.56 149.67,241.9 150.1,241.57 150.53,240.74 150.95,241.34 151.38,240.66 151.8,240.64 152.23,241.78 152.65,241.45 153.08,241.15 153.51,241.86 153.93,241.05 154.36,241.59 154.78,240.92 155.21,241.31 155.63,241.9 156.06,242.1 156.49,242.08 156.91,241.38 157.34,241.71 157.76,241.34 158.19,241.11 158.61,241.68 159.04,242.23 159.47,242.28 159.89,242.11 160.32,242.5 160.74,241.52 161.17,241.4 161.59,241.85 162.02,241.62 162.45,241.57 162.87,241.9 163.3,242.25 163.72,242.09 164.15,239.65 164.57,240.47 165,242.92 165,242.85 165.42,244.2 165.84,245.5 166.26,247.74 166.68,247.18 167.1,248.68 167.52,248.83 167.94,248.7 168.36,249.62 168.78,248.6 169.2,248.88 169.62,249.44 170.04,248.86 170.46,250.12 170.88,249.28 171.3,249.17 171.72,249.06 172.14,249.96 172.56,249.72 172.98,250.02 173.4,250.08 173.82,250.34 174.24,250.59 174.66,250.2 175.08,249.5 175.5,249.93 175.92,249.51 176.34,249.28 176.76,250 177.18,250.38 177.6,248.3 178.02,248.47 178.44,248.6 178.86,250.45 179.28,250.21 179.7,250.37 180.12,250.61 180.54,250.09 180.96,250.71 181.38,250.9 181.8,249.7 182.22,250.99 182.64,250.69 183.06,249.83 183.48,250.34 183.9,250.62 184.32,251.07 184.74,250.29 185.16,250.6 185.58,251.09 186,250.99 186.42,251.23 186.84,250.53 187.26,250.84 187.68,250.19 188.1,250.99 188.52,251.16 188.94,250.92 189.36,251.05 189.78,250.32 190.2,251.37 190.62,251.52 191.04,251.53 191.46,250.9 191.88,251.3 192.3,250.62 192.72,251.52 193.14,251.47 193.56,250.73 193.98,250.35 194.4,250.91" fill="none" stroke="#8cb2f5" stroke-width="1.25" stroke-linejoin="round" />
<line x1="36.5" y1="174.5" x2="202.5" y2="174.5" stroke="#555" stroke-width="0.9" />
<line x1="202.5" y1="174.5" x2="202.5" y2="310.5" stroke="#262626" stroke-width="0.9" />
<line x1="36" y1="310.5" x2="202.95" y2="310.5" stroke="#262626" stroke-width="0.9" />
<line x1="37" y1="174.5" x2="37" y2="310.5" stroke="#a4a4a4" stroke-width="1.7" />
<line x1="33.9" y1="174.8" x2="36.5" y2="174.8" stroke="#262626" stroke-width="1" />
<line x1="35" y1="187.15" x2="36.5" y2="187.15" stroke="#262626" stroke-width="1" />
<line x1="33.9" y1="199.5" x2="36.5" y2="199.5" stroke="#262626" stroke-width="1" />
<line x1="35" y1="211.85" x2="36.5" y2="211.85" stroke="#262626" stroke-width="1" />
<line x1="33.9" y1="224.2" x2="36.5" y2="224.2" stroke="#262626" stroke-width="1" />
<line x1="35" y1="236.55" x2="36.5" y2="236.55" stroke="#262626" stroke-width="1" />
<line x1="33.9" y1="248.9" x2="36.5" y2="248.9" stroke="#262626" stroke-width="1" />
<line x1="35" y1="261.25" x2="36.5" y2="261.25" stroke="#262626" stroke-width="1" />
<line x1="33.9" y1="273.6" x2="36.5" y2="273.6" stroke="#262626" stroke-width="1" />
<line x1="35" y1="285.95" x2="36.5" y2="285.95" stroke="#262626" stroke-width="1" />
<line x1="33.9" y1="298.3" x2="36.5" y2="298.3" stroke="#262626" stroke-width="1" />
<text x="32.9" y="177.4" font-size="8.4" font-weight="bold" text-anchor="end" fill="#111" textLength="15.6" lengthAdjust="spacingAndGlyphs">−0.4</text>
<text x="32.9" y="202.1" font-size="8.4" font-weight="bold" text-anchor="end" fill="#111" textLength="15.6" lengthAdjust="spacingAndGlyphs">−0.6</text>
<text x="32.9" y="226.8" font-size="8.4" font-weight="bold" text-anchor="end" fill="#111" textLength="15.6" lengthAdjust="spacingAndGlyphs">−0.8</text>
<text x="32.9" y="251.5" font-size="8.4" font-weight="bold" text-anchor="end" fill="#111" textLength="15.6" lengthAdjust="spacingAndGlyphs">−1.0</text>
<text x="32.9" y="276.2" font-size="8.4" font-weight="bold" text-anchor="end" fill="#111" textLength="15.6" lengthAdjust="spacingAndGlyphs">−1.2</text>
<text x="32.9" y="300.9" font-size="8.4" font-weight="bold" text-anchor="end" fill="#111" textLength="15.6" lengthAdjust="spacingAndGlyphs">−1.4</text>
<line x1="44.8" y1="310.5" x2="44.8" y2="313.1" stroke="#262626" stroke-width="1" />
<line x1="59.75" y1="310.5" x2="59.75" y2="312" stroke="#262626" stroke-width="1" />
<line x1="74.7" y1="310.5" x2="74.7" y2="313.1" stroke="#262626" stroke-width="1" />
<line x1="89.65" y1="310.5" x2="89.65" y2="312" stroke="#262626" stroke-width="1" />
<line x1="104.6" y1="310.5" x2="104.6" y2="313.1" stroke="#262626" stroke-width="1" />
<line x1="119.55" y1="310.5" x2="119.55" y2="312" stroke="#262626" stroke-width="1" />
<line x1="134.5" y1="310.5" x2="134.5" y2="313.1" stroke="#262626" stroke-width="1" />
<line x1="149.45" y1="310.5" x2="149.45" y2="312" stroke="#262626" stroke-width="1" />
<line x1="164.4" y1="310.5" x2="164.4" y2="313.1" stroke="#262626" stroke-width="1" />
<line x1="179.35" y1="310.5" x2="179.35" y2="312" stroke="#262626" stroke-width="1" />
<line x1="194.3" y1="310.5" x2="194.3" y2="313.1" stroke="#262626" stroke-width="1" />
<text x="44.8" y="321.3" font-size="8" font-weight="bold" text-anchor="middle" fill="#111" >0</text>
<text x="74.7" y="321.3" font-size="8" font-weight="bold" text-anchor="middle" fill="#111" >200</text>
<text x="104.6" y="321.3" font-size="8" font-weight="bold" text-anchor="middle" fill="#111" >400</text>
<text x="134.5" y="321.3" font-size="8" font-weight="bold" text-anchor="middle" fill="#111" >600</text>
<text x="164.4" y="321.3" font-size="8" font-weight="bold" text-anchor="middle" fill="#111" >800</text>
<text x="194.3" y="321.3" font-size="8" font-weight="bold" text-anchor="middle" fill="#111" >1000</text>
<text x="124.3" y="332.2" font-size="8.3" font-weight="bold" text-anchor="middle" fill="#111" >Time (s)</text>
<text x="0" y="0" font-size="8.4" font-weight="bold" text-anchor="middle" fill="#111" transform="translate(9.4,244) rotate(-90)">Current Density (mA/cm<tspan font-size="5.8" dy="-3">2</tspan><tspan dy="3">)</tspan></text>
<text x="-0.5" y="172.4" font-size="12" font-weight="bold" text-anchor="start" fill="#111" >(d)</text>
<line x1="84" y1="183" x2="99.6" y2="183" stroke="#f58c8c" stroke-width="1.5" />
<line x1="84" y1="193.75" x2="99.6" y2="193.75" stroke="#9dbdf6" stroke-width="1.5" />
<text x="101.2" y="185.5" font-size="6.95" font-weight="bold" text-anchor="start" fill="#111" >With CO<tspan font-size="5" dy="1.8">2</tspan><tspan dy="-1.8"> compensation</tspan></text>
<text x="101.2" y="196.3" font-size="6.95" font-weight="bold" text-anchor="start" fill="#111" >Without CO<tspan font-size="5" dy="1.8">2</tspan><tspan dy="-1.8"> compensation</tspan></text>
<text x="65.2" y="191" font-size="7.8" font-weight="bold" text-anchor="middle" fill="#3a3a3a" >0 <tspan font-weight="normal" stroke="#222" stroke-width="0.25">m/s</tspan></text>
<text x="99.3" y="206.3" font-size="8.1" font-weight="bold" text-anchor="middle" fill="#3a3a3a" >0.16</text>
<text x="99.3" y="215.2" font-size="7.4" font-weight="normal" text-anchor="middle" fill="#222" stroke="#222" stroke-width="0.25">m/s</text>
<text x="129.6" y="214.8" font-size="8.1" font-weight="bold" text-anchor="middle" fill="#3a3a3a" >0.34</text>
<text x="129.6" y="223.7" font-size="7.4" font-weight="normal" text-anchor="middle" fill="#222" stroke="#222" stroke-width="0.25">m/s</text>
<text x="159.2" y="224.8" font-size="8.1" font-weight="bold" text-anchor="middle" fill="#3a3a3a" >0.56</text>
<text x="159.2" y="234" font-size="7.4" font-weight="normal" text-anchor="middle" fill="#222" stroke="#222" stroke-width="0.25">m/s</text>
<text x="186.8" y="233.1" font-size="8.1" font-weight="bold" text-anchor="middle" fill="#3a3a3a" >0.77</text>
<text x="186.8" y="241.6" font-size="7.4" font-weight="normal" text-anchor="middle" fill="#222" stroke="#222" stroke-width="0.25">m/s</text>
<text x="89.2" y="266.3" font-size="8.4" font-weight="bold" text-anchor="middle" fill="#333" >With</text>
<text x="168.9" y="269.9" font-size="8.4" font-weight="bold" text-anchor="middle" fill="#333" >Without</text>
<text x="64.6" y="278.5" font-size="9" font-weight="bold" text-anchor="start" fill="#ee1111" >CO<tspan font-size="6" dy="2">2</tspan></text>
<line x1="81.8" y1="276.5" x2="98" y2="276.5" stroke="#55bdf0" stroke-width="1" stroke-dasharray="2.6,1.6"/>
<path d="M97.4,274.7 L101,276.5 L97.4,278.3 Z" fill="#55bdf0"/>
<line x1="161.4" y1="276.4" x2="176.8" y2="276.4" stroke="#55bdf0" stroke-width="1" stroke-dasharray="2.6,1.6"/>
<path d="M176.2,274.6 L179.8,276.4 L176.2,278.2 Z" fill="#55bdf0"/>
<rect x="60.1" y="282" width="24" height="9.8" fill="#ffd966" stroke="none" stroke-width="1" />
<rect x="99.1" y="281.8" width="24.4" height="10.2" fill="#0070c0" stroke="none" stroke-width="1" />
<rect x="158.4" y="281.8" width="23.6" height="10.2" fill="#0070c0" stroke="none" stroke-width="1" />
<text x="72.1" y="300.9" font-size="8.4" font-weight="bold" text-anchor="middle" fill="#444" >Anode</text>
<text x="111.3" y="300.9" font-size="8.4" font-weight="bold" text-anchor="middle" fill="#444" >Cathode</text>
<text x="169.3" y="300.9" font-size="8.4" font-weight="bold" text-anchor="middle" fill="#444" >Cathode</text>
<line x1="104.2" y1="272.2" x2="107.4" y2="275.6" stroke="#8a8a8a" stroke-width="1.3" />
<line x1="104.4" y1="279.9" x2="107.4" y2="275.6" stroke="#8a8a8a" stroke-width="1.3" />
<circle cx="104.2" cy="272.2" r="1.45" fill="#f4f4f4" stroke="#333" stroke-width="0.5"/>
<circle cx="104.4" cy="279.9" r="1.45" fill="#f4f4f4" stroke="#333" stroke-width="0.5"/>
<circle cx="107.4" cy="275.6" r="2.5" fill="#b80000" stroke="#400" stroke-width="0.4"/>
<line x1="114.6" y1="274.7" x2="118.7" y2="273.4" stroke="#9a9a9a" stroke-width="1.2" />
<line x1="121.3" y1="278" x2="118.7" y2="273.4" stroke="#9a9a9a" stroke-width="1.2" />
<circle cx="114.6" cy="274.7" r="1.25" fill="#eee" stroke="#555" stroke-width="0.45"/>
<circle cx="121.3" cy="278" r="1.25" fill="#eee" stroke="#555" stroke-width="0.45"/>
<circle cx="118.7" cy="273.3" r="2.0" fill="#e04848" stroke="#822" stroke-width="0.3"/>
<rect x="256.65" y="195.4" width="13.7" height="115.77" fill="#9cdfbb" stroke="#2a2a2a" stroke-width="0.8" />
<rect x="256.65" y="311.17" width="13.7" height="3.83" fill="#9bbbf3" stroke="#2a2a2a" stroke-width="0.8" />
<line x1="263.5" y1="190.38" x2="263.5" y2="200.42" stroke="#1a1a1a" stroke-width="0.8" />
<line x1="261.3" y1="190.38" x2="265.7" y2="190.38" stroke="#1a1a1a" stroke-width="0.8" />
<line x1="261.3" y1="200.42" x2="265.7" y2="200.42" stroke="#1a1a1a" stroke-width="0.8" />
<rect x="290.35" y="195.4" width="13.7" height="100.11" fill="#9cdfbb" stroke="#2a2a2a" stroke-width="0.8" />
<rect x="290.35" y="295.51" width="13.7" height="19.49" fill="#9bbbf3" stroke="#2a2a2a" stroke-width="0.8" />
<line x1="297.2" y1="191.69" x2="297.2" y2="199.11" stroke="#1a1a1a" stroke-width="0.8" />
<line x1="295" y1="191.69" x2="299.4" y2="191.69" stroke="#1a1a1a" stroke-width="0.8" />
<line x1="295" y1="199.11" x2="299.4" y2="199.11" stroke="#1a1a1a" stroke-width="0.8" />
<line x1="297.2" y1="292.52" x2="297.2" y2="298.5" stroke="#1a1a1a" stroke-width="0.8" />
<line x1="295" y1="292.52" x2="299.4" y2="292.52" stroke="#1a1a1a" stroke-width="0.8" />
<line x1="295" y1="298.5" x2="299.4" y2="298.5" stroke="#1a1a1a" stroke-width="0.8" />
<rect x="324.65" y="195.4" width="13.7" height="95.92" fill="#9cdfbb" stroke="#2a2a2a" stroke-width="0.8" />
<rect x="324.65" y="291.32" width="13.7" height="23.68" fill="#9bbbf3" stroke="#2a2a2a" stroke-width="0.8" />
<line x1="331.5" y1="189.06" x2="331.5" y2="201.74" stroke="#1a1a1a" stroke-width="0.8" />
<line x1="329.3" y1="189.06" x2="333.7" y2="189.06" stroke="#1a1a1a" stroke-width="0.8" />
<line x1="329.3" y1="201.74" x2="333.7" y2="201.74" stroke="#1a1a1a" stroke-width="0.8" />
<line x1="331.5" y1="289.17" x2="331.5" y2="293.47" stroke="#1a1a1a" stroke-width="0.8" />
<line x1="329.3" y1="289.17" x2="333.7" y2="289.17" stroke="#1a1a1a" stroke-width="0.8" />
<line x1="329.3" y1="293.47" x2="333.7" y2="293.47" stroke="#1a1a1a" stroke-width="0.8" />
<rect x="358.65" y="195.4" width="13.7" height="93.29" fill="#9cdfbb" stroke="#2a2a2a" stroke-width="0.8" />
<rect x="358.65" y="288.69" width="13.7" height="26.31" fill="#9bbbf3" stroke="#2a2a2a" stroke-width="0.8" />
<line x1="365.5" y1="190.26" x2="365.5" y2="200.54" stroke="#1a1a1a" stroke-width="0.8" />
<line x1="363.3" y1="190.26" x2="367.7" y2="190.26" stroke="#1a1a1a" stroke-width="0.8" />
<line x1="363.3" y1="200.54" x2="367.7" y2="200.54" stroke="#1a1a1a" stroke-width="0.8" />
<line x1="365.5" y1="285.7" x2="365.5" y2="291.68" stroke="#1a1a1a" stroke-width="0.8" />
<line x1="363.3" y1="285.7" x2="367.7" y2="285.7" stroke="#1a1a1a" stroke-width="0.8" />
<line x1="363.3" y1="291.68" x2="367.7" y2="291.68" stroke="#1a1a1a" stroke-width="0.8" />
<rect x="393.15" y="195.4" width="13.7" height="90.9" fill="#9cdfbb" stroke="#2a2a2a" stroke-width="0.8" />
<rect x="393.15" y="286.3" width="13.7" height="28.7" fill="#9bbbf3" stroke="#2a2a2a" stroke-width="0.8" />
<line x1="400" y1="193.25" x2="400" y2="197.55" stroke="#1a1a1a" stroke-width="0.8" />
<line x1="397.8" y1="193.25" x2="402.2" y2="193.25" stroke="#1a1a1a" stroke-width="0.8" />
<line x1="397.8" y1="197.55" x2="402.2" y2="197.55" stroke="#1a1a1a" stroke-width="0.8" />
<line x1="400" y1="284.02" x2="400" y2="288.57" stroke="#1a1a1a" stroke-width="0.8" />
<line x1="397.8" y1="284.02" x2="402.2" y2="284.02" stroke="#1a1a1a" stroke-width="0.8" />
<line x1="397.8" y1="288.57" x2="402.2" y2="288.57" stroke="#1a1a1a" stroke-width="0.8" />
<rect x="246.5" y="177.5" width="171" height="138" fill="none" stroke="#262626" stroke-width="0.9" />
<line x1="243" y1="315" x2="246.5" y2="315" stroke="#262626" stroke-width="1" />
<line x1="244.9" y1="303.04" x2="246.5" y2="303.04" stroke="#262626" stroke-width="1" />
<line x1="243" y1="291.08" x2="246.5" y2="291.08" stroke="#262626" stroke-width="1" />
<line x1="244.9" y1="279.12" x2="246.5" y2="279.12" stroke="#262626" stroke-width="1" />
<line x1="243" y1="267.16" x2="246.5" y2="267.16" stroke="#262626" stroke-width="1" />
<line x1="244.9" y1="255.2" x2="246.5" y2="255.2" stroke="#262626" stroke-width="1" />
<line x1="243" y1="243.24" x2="246.5" y2="243.24" stroke="#262626" stroke-width="1" />
<line x1="244.9" y1="231.28" x2="246.5" y2="231.28" stroke="#262626" stroke-width="1" />
<line x1="243" y1="219.32" x2="246.5" y2="219.32" stroke="#262626" stroke-width="1" />
<line x1="244.9" y1="207.36" x2="246.5" y2="207.36" stroke="#262626" stroke-width="1" />
<line x1="243" y1="195.4" x2="246.5" y2="195.4" stroke="#262626" stroke-width="1" />
<line x1="244.9" y1="183.44" x2="246.5" y2="183.44" stroke="#262626" stroke-width="1" />
<text x="241.6" y="317.59" font-size="7.2" font-weight="bold" text-anchor="end" fill="#111" >0</text>
<text x="241.6" y="293.67" font-size="7.2" font-weight="bold" text-anchor="end" fill="#111" >20</text>
<text x="241.6" y="269.75" font-size="7.2" font-weight="bold" text-anchor="end" fill="#111" >40</text>
<text x="241.6" y="245.83" font-size="7.2" font-weight="bold" text-anchor="end" fill="#111" >60</text>
<text x="241.6" y="221.91" font-size="7.2" font-weight="bold" text-anchor="end" fill="#111" >80</text>
<text x="241.6" y="197.99" font-size="7.2" font-weight="bold" text-anchor="end" fill="#111" >100</text>
<line x1="263.5" y1="315.5" x2="263.5" y2="318.1" stroke="#262626" stroke-width="1" />
<line x1="297.2" y1="315.5" x2="297.2" y2="318.1" stroke="#262626" stroke-width="1" />
<line x1="331.5" y1="315.5" x2="331.5" y2="318.1" stroke="#262626" stroke-width="1" />
<line x1="365.5" y1="315.5" x2="365.5" y2="318.1" stroke="#262626" stroke-width="1" />
<line x1="400" y1="315.5" x2="400" y2="318.1" stroke="#262626" stroke-width="1" />
<line x1="246.65" y1="315.5" x2="246.65" y2="317" stroke="#262626" stroke-width="1" />
<line x1="280.35" y1="315.5" x2="280.35" y2="317" stroke="#262626" stroke-width="1" />
<line x1="314.05" y1="315.5" x2="314.05" y2="317" stroke="#262626" stroke-width="1" />
<line x1="347.75" y1="315.5" x2="347.75" y2="317" stroke="#262626" stroke-width="1" />
<line x1="381.45" y1="315.5" x2="381.45" y2="317" stroke="#262626" stroke-width="1" />
<line x1="415.15" y1="315.5" x2="415.15" y2="317" stroke="#262626" stroke-width="1" />
<text x="263.5" y="325.39" font-size="7.2" font-weight="bold" text-anchor="middle" fill="#111" >0</text>
<text x="297.2" y="325.39" font-size="7.2" font-weight="bold" text-anchor="middle" fill="#111" >0.16</text>
<text x="331.5" y="325.39" font-size="7.2" font-weight="bold" text-anchor="middle" fill="#111" >0.34</text>
<text x="365.5" y="325.39" font-size="7.2" font-weight="bold" text-anchor="middle" fill="#111" >0.56</text>
<text x="400" y="325.39" font-size="7.2" font-weight="bold" text-anchor="middle" fill="#111" >0.77</text>
<text x="337.4" y="334.4" font-size="8.3" font-weight="bold" text-anchor="middle" fill="#111" textLength="58.4" lengthAdjust="spacingAndGlyphs">Flow rate (m/s)</text>
<text x="0" y="0" font-size="8.5" font-weight="bold" text-anchor="middle" fill="#111" transform="translate(226,246.3) rotate(-90)">Faradaic Efficiency (%)</text>
<text x="218" y="172.4" font-size="12" font-weight="bold" text-anchor="start" fill="#111" >(e)</text>
<rect x="255.8" y="180.2" width="15.8" height="7.4" fill="#9cdfbb" stroke="#2a2a2a" stroke-width="0.8" />
<rect x="291.8" y="180.2" width="15.7" height="7.4" fill="#9bbbf3" stroke="#2a2a2a" stroke-width="0.8" />
<text x="273.4" y="186.56" font-size="7.4" font-weight="bold" text-anchor="start" fill="#111" >H<tspan font-size="5.18" dy="1.85">2</tspan></text>
<text x="309.9" y="186.56" font-size="7.4" font-weight="bold" text-anchor="start" fill="#111" >CO</text>
<rect x="487.5" y="192.2" width="14" height="115.07" fill="#9cdfbb" stroke="#2a2a2a" stroke-width="0.8" />
<rect x="487.5" y="307.27" width="14" height="3.93" fill="#9bbbf3" stroke="#2a2a2a" stroke-width="0.8" />
<line x1="494.5" y1="188.63" x2="494.5" y2="195.77" stroke="#1a1a1a" stroke-width="0.8" />
<line x1="492.3" y1="188.63" x2="496.7" y2="188.63" stroke="#1a1a1a" stroke-width="0.8" />
<line x1="492.3" y1="195.77" x2="496.7" y2="195.77" stroke="#1a1a1a" stroke-width="0.8" />
<rect x="521.5" y="192.2" width="14" height="114.24" fill="#9cdfbb" stroke="#2a2a2a" stroke-width="0.8" />
<rect x="521.5" y="306.44" width="14" height="4.76" fill="#9bbbf3" stroke="#2a2a2a" stroke-width="0.8" />
<line x1="528.5" y1="187.68" x2="528.5" y2="196.72" stroke="#1a1a1a" stroke-width="0.8" />
<line x1="526.3" y1="187.68" x2="530.7" y2="187.68" stroke="#1a1a1a" stroke-width="0.8" />
<line x1="526.3" y1="196.72" x2="530.7" y2="196.72" stroke="#1a1a1a" stroke-width="0.8" />
<line x1="528.5" y1="305.73" x2="528.5" y2="307.15" stroke="#1a1a1a" stroke-width="0.8" />
<line x1="526.3" y1="305.73" x2="530.7" y2="305.73" stroke="#1a1a1a" stroke-width="0.8" />
<line x1="526.3" y1="307.15" x2="530.7" y2="307.15" stroke="#1a1a1a" stroke-width="0.8" />
<rect x="555.7" y="192.2" width="14" height="114.72" fill="#9cdfbb" stroke="#2a2a2a" stroke-width="0.8" />
<rect x="555.7" y="306.92" width="14" height="4.28" fill="#9bbbf3" stroke="#2a2a2a" stroke-width="0.8" />
<line x1="562.7" y1="187.68" x2="562.7" y2="196.72" stroke="#1a1a1a" stroke-width="0.8" />
<line x1="560.5" y1="187.68" x2="564.9" y2="187.68" stroke="#1a1a1a" stroke-width="0.8" />
<line x1="560.5" y1="196.72" x2="564.9" y2="196.72" stroke="#1a1a1a" stroke-width="0.8" />
<line x1="562.7" y1="306.32" x2="562.7" y2="307.51" stroke="#1a1a1a" stroke-width="0.8" />
<line x1="560.5" y1="306.32" x2="564.9" y2="306.32" stroke="#1a1a1a" stroke-width="0.8" />
<line x1="560.5" y1="307.51" x2="564.9" y2="307.51" stroke="#1a1a1a" stroke-width="0.8" />
<rect x="589.8" y="192.2" width="14" height="113.17" fill="#9cdfbb" stroke="#2a2a2a" stroke-width="0.8" />
<rect x="589.8" y="305.37" width="14" height="5.83" fill="#9bbbf3" stroke="#2a2a2a" stroke-width="0.8" />
<line x1="596.8" y1="189.22" x2="596.8" y2="195.18" stroke="#1a1a1a" stroke-width="0.8" />
<line x1="594.6" y1="189.22" x2="599" y2="189.22" stroke="#1a1a1a" stroke-width="0.8" />
<line x1="594.6" y1="195.18" x2="599" y2="195.18" stroke="#1a1a1a" stroke-width="0.8" />
<line x1="596.8" y1="304.77" x2="596.8" y2="305.96" stroke="#1a1a1a" stroke-width="0.8" />
<line x1="594.6" y1="304.77" x2="599" y2="304.77" stroke="#1a1a1a" stroke-width="0.8" />
<line x1="594.6" y1="305.96" x2="599" y2="305.96" stroke="#1a1a1a" stroke-width="0.8" />
<rect x="624" y="192.2" width="14" height="113.17" fill="#9cdfbb" stroke="#2a2a2a" stroke-width="0.8" />
<rect x="624" y="305.37" width="14" height="5.83" fill="#9bbbf3" stroke="#2a2a2a" stroke-width="0.8" />
<line x1="631" y1="187.68" x2="631" y2="196.72" stroke="#1a1a1a" stroke-width="0.8" />
<line x1="628.8" y1="187.68" x2="633.2" y2="187.68" stroke="#1a1a1a" stroke-width="0.8" />
<line x1="628.8" y1="196.72" x2="633.2" y2="196.72" stroke="#1a1a1a" stroke-width="0.8" />
<line x1="631" y1="304.77" x2="631" y2="305.96" stroke="#1a1a1a" stroke-width="0.8" />
<line x1="628.8" y1="304.77" x2="633.2" y2="304.77" stroke="#1a1a1a" stroke-width="0.8" />
<line x1="628.8" y1="305.96" x2="633.2" y2="305.96" stroke="#1a1a1a" stroke-width="0.8" />
<line x1="477.5" y1="174.5" x2="647.5" y2="174.5" stroke="#444" stroke-width="0.9" />
<line x1="647.5" y1="174.5" x2="647.5" y2="311.5" stroke="#262626" stroke-width="0.9" />
<line x1="477" y1="311.5" x2="647.95" y2="311.5" stroke="#262626" stroke-width="0.9" />
<line x1="477.5" y1="174.5" x2="477.5" y2="311.5" stroke="#a8a8a8" stroke-width="1.6" />
<line x1="474.7" y1="311.2" x2="477.5" y2="311.2" stroke="#262626" stroke-width="1" />
<line x1="475.9" y1="299.3" x2="477.5" y2="299.3" stroke="#262626" stroke-width="1" />
<line x1="474.7" y1="287.4" x2="477.5" y2="287.4" stroke="#262626" stroke-width="1" />
<line x1="475.9" y1="275.5" x2="477.5" y2="275.5" stroke="#262626" stroke-width="1" />
<line x1="474.7" y1="263.6" x2="477.5" y2="263.6" stroke="#262626" stroke-width="1" />
<line x1="475.9" y1="251.7" x2="477.5" y2="251.7" stroke="#262626" stroke-width="1" />
<line x1="474.7" y1="239.8" x2="477.5" y2="239.8" stroke="#262626" stroke-width="1" />
<line x1="475.9" y1="227.9" x2="477.5" y2="227.9" stroke="#262626" stroke-width="1" />
<line x1="474.7" y1="216" x2="477.5" y2="216" stroke="#262626" stroke-width="1" />
<line x1="475.9" y1="204.1" x2="477.5" y2="204.1" stroke="#262626" stroke-width="1" />
<line x1="474.7" y1="192.2" x2="477.5" y2="192.2" stroke="#262626" stroke-width="1" />
<line x1="475.9" y1="180.3" x2="477.5" y2="180.3" stroke="#262626" stroke-width="1" />
<text x="472.6" y="312.75" font-size="6.8" font-weight="bold" text-anchor="end" fill="#111" >0</text>
<text x="472.6" y="288.95" font-size="6.8" font-weight="bold" text-anchor="end" fill="#111" >20</text>
<text x="472.6" y="265.15" font-size="6.8" font-weight="bold" text-anchor="end" fill="#111" >40</text>
<text x="472.6" y="241.35" font-size="6.8" font-weight="bold" text-anchor="end" fill="#111" >60</text>
<text x="472.6" y="217.55" font-size="6.8" font-weight="bold" text-anchor="end" fill="#111" >80</text>
<text x="472.6" y="193.75" font-size="6.8" font-weight="bold" text-anchor="end" fill="#111" >100</text>
<line x1="494.5" y1="311.5" x2="494.5" y2="314.1" stroke="#262626" stroke-width="1" />
<line x1="528.5" y1="311.5" x2="528.5" y2="314.1" stroke="#262626" stroke-width="1" />
<line x1="562.7" y1="311.5" x2="562.7" y2="314.1" stroke="#262626" stroke-width="1" />
<line x1="596.8" y1="311.5" x2="596.8" y2="314.1" stroke="#262626" stroke-width="1" />
<line x1="631" y1="311.5" x2="631" y2="314.1" stroke="#262626" stroke-width="1" />
<line x1="511.5" y1="311.5" x2="511.5" y2="313" stroke="#262626" stroke-width="1" />
<line x1="545.5" y1="311.5" x2="545.5" y2="313" stroke="#262626" stroke-width="1" />
<line x1="579.5" y1="311.5" x2="579.5" y2="313" stroke="#262626" stroke-width="1" />
<line x1="613.5" y1="311.5" x2="613.5" y2="313" stroke="#262626" stroke-width="1" />
<text x="494.5" y="321.75" font-size="6.8" font-weight="bold" text-anchor="middle" fill="#111" >0</text>
<text x="528.5" y="321.75" font-size="6.8" font-weight="bold" text-anchor="middle" fill="#111" >0.16</text>
<text x="562.7" y="321.75" font-size="6.8" font-weight="bold" text-anchor="middle" fill="#111" >0.34</text>
<text x="596.8" y="321.75" font-size="6.8" font-weight="bold" text-anchor="middle" fill="#111" >0.56</text>
<text x="631" y="321.75" font-size="6.8" font-weight="bold" text-anchor="middle" fill="#111" >0.77</text>
<text x="567.2" y="331.4" font-size="8.4" font-weight="bold" text-anchor="middle" fill="#111" textLength="59.7" lengthAdjust="spacingAndGlyphs">Flow rate (m/s)</text>
<text x="0" y="0" font-size="8.45" font-weight="bold" text-anchor="middle" fill="#111" transform="translate(456.3,239.8) rotate(-90)">Faradaic Efficiency (%)</text>
<text x="432.2" y="172.4" font-size="12" font-weight="bold" text-anchor="start" fill="#111" >(f)</text>
<rect x="487.1" y="176.6" width="16.1" height="6.8" fill="#9cdfbb" stroke="#2a2a2a" stroke-width="0.8" />
<rect x="522.9" y="176.6" width="15.6" height="6.8" fill="#9bbbf3" stroke="#2a2a2a" stroke-width="0.8" />
<text x="505.9" y="182.45" font-size="6.8" font-weight="bold" text-anchor="start" fill="#111" >H<tspan font-size="4.76" dy="1.7">2</tspan></text>
<text x="541.2" y="182.45" font-size="6.8" font-weight="bold" text-anchor="start" fill="#111" >CO</text>
</svg></body></html>
